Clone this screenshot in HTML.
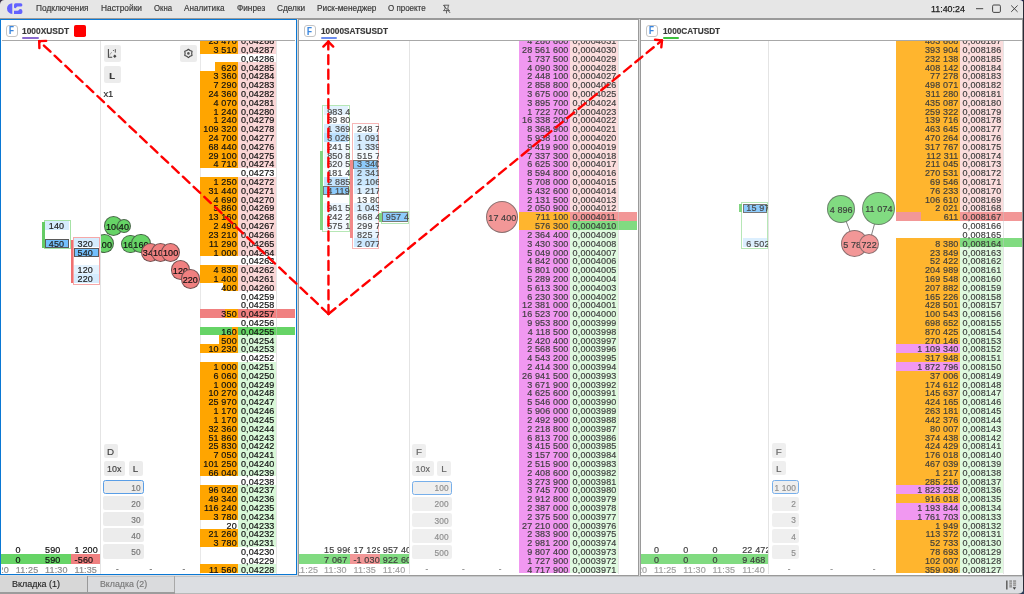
<!DOCTYPE html><html><head><meta charset="utf-8"><style>
html,body{margin:0;padding:0;}
body{width:1024px;height:594px;position:relative;overflow:hidden;background:#dcdee2;font-family:"Liberation Sans",sans-serif;}
#root{left:0;top:0;width:1024px;height:594px;will-change:transform;}
div{position:absolute;box-sizing:border-box;}
.t{white-space:nowrap;-webkit-text-stroke:0.18px currentColor;}
.clip{overflow:hidden;}
svg{position:absolute;left:0;top:0;}
</style></head><body><div id="root">
<div style="left:0.00px;top:0.00px;width:1024.00px;height:18.00px;background:#e6e6e6;"></div>
<div style="left:0.00px;top:18.00px;width:1024.00px;height:1.20px;background:#9a9a9a;"></div>
<div class="t" style="left:35.90px;top:4.52px;font-size:8.24px;line-height:8.24px;color:#3a3a3a;transform:scaleX(1.0090);transform-origin:0 0;">Подключения</div>
<div class="t" style="left:100.50px;top:4.52px;font-size:8.24px;line-height:8.24px;color:#3a3a3a;transform:scaleX(1.0147);transform-origin:0 0;">Настройки</div>
<div class="t" style="left:153.50px;top:4.52px;font-size:8.24px;line-height:8.24px;color:#3a3a3a;transform:scaleX(0.9453);transform-origin:0 0;">Окна</div>
<div class="t" style="left:184.10px;top:4.52px;font-size:8.24px;line-height:8.24px;color:#3a3a3a;transform:scaleX(0.9929);transform-origin:0 0;">Аналитика</div>
<div class="t" style="left:237.10px;top:4.52px;font-size:8.24px;line-height:8.24px;color:#3a3a3a;transform:scaleX(1.0007);transform-origin:0 0;">Финрез</div>
<div class="t" style="left:277.10px;top:4.52px;font-size:8.24px;line-height:8.24px;color:#3a3a3a;transform:scaleX(1.0041);transform-origin:0 0;">Сделки</div>
<div class="t" style="left:316.90px;top:4.52px;font-size:8.24px;line-height:8.24px;color:#3a3a3a;transform:scaleX(1.0041);transform-origin:0 0;">Риск-менеджер</div>
<div class="t" style="left:388.00px;top:4.52px;font-size:8.24px;line-height:8.24px;color:#3a3a3a;transform:scaleX(0.9673);transform-origin:0 0;">О проекте</div>
<div class="t" style="left:930.90px;top:4.80px;font-size:9.22px;line-height:9.22px;color:#1a1a1a;transform:scaleX(0.9631);transform-origin:0 0;-webkit-text-stroke:0.25px #1a1a1a;">11:40:24</div>
<div style="left:0.00px;top:19.10px;width:296.70px;height:556.40px;background:#ffffff;border:1.7px solid #0a78d4;"></div>
<div style="left:298.00px;top:19.10px;width:340.60px;height:556.90px;background:#ffffff;border:1.4px solid #9a9a9a;"></div>
<div style="left:639.90px;top:19.10px;width:382.80px;height:556.90px;background:#ffffff;border:1.4px solid #9a9a9a;"></div>
<div style="left:296.70px;top:19.00px;width:1.30px;height:557.00px;background:#d8d8d8;"></div>
<div style="left:638.60px;top:19.00px;width:1.30px;height:557.00px;background:#d8d8d8;"></div>
<div style="left:1022.70px;top:0.00px;width:1.30px;height:594.00px;background:#2a2a35;"></div>
<div style="left:1.70px;top:40.00px;width:293.30px;height:1.00px;background:#a8a8a8;"></div>
<div style="left:299.40px;top:40.00px;width:337.80px;height:1.00px;background:#a8a8a8;"></div>
<div style="left:641.30px;top:40.00px;width:380.50px;height:1.00px;background:#a8a8a8;"></div>
<div style="left:6.1px;top:25.0px;width:11.9px;height:11.9px;border:1px solid #c4c4c4;border-radius:3px;background:#fff;"></div>
<div class="t" style="left:9.10px;top:26.49px;font-size:10.06px;line-height:10.06px;color:#3a86de;transform:scaleX(0.7977);transform-origin:0 0;font-weight:bold;">F</div>
<div style="left:304.1px;top:25.2px;width:11.9px;height:11.9px;border:1px solid #c4c4c4;border-radius:3px;background:#fff;"></div>
<div class="t" style="left:307.10px;top:26.69px;font-size:10.06px;line-height:10.06px;color:#3a86de;transform:scaleX(0.7977);transform-origin:0 0;font-weight:bold;">F</div>
<div style="left:646.1px;top:25.0px;width:11.9px;height:11.9px;border:1px solid #c4c4c4;border-radius:3px;background:#fff;"></div>
<div class="t" style="left:649.10px;top:26.49px;font-size:10.06px;line-height:10.06px;color:#3a86de;transform:scaleX(0.7977);transform-origin:0 0;font-weight:bold;">F</div>
<div class="t" style="left:22.20px;top:26.41px;font-size:9.92px;line-height:9.92px;color:#3a3a3a;transform:scaleX(0.8479);transform-origin:0 0;font-weight:bold;">1000XUSDT</div>
<div style="left:22.40px;top:36.80px;width:16.40px;height:2.30px;background:#8a6ad0;border-radius:1.2px;"></div>
<div class="t" style="left:320.60px;top:26.41px;font-size:9.92px;line-height:9.92px;color:#3a3a3a;transform:scaleX(0.8371);transform-origin:0 0;font-weight:bold;">10000SATSUSDT</div>
<div style="left:320.80px;top:36.80px;width:16.50px;height:2.30px;background:#6b8cf0;border-radius:1.2px;"></div>
<div class="t" style="left:662.60px;top:26.41px;font-size:9.92px;line-height:9.92px;color:#3a3a3a;transform:scaleX(0.8326);transform-origin:0 0;font-weight:bold;">1000CATUSDT</div>
<div style="left:662.80px;top:36.80px;width:16.70px;height:2.30px;background:#3cc03c;border-radius:1.2px;"></div>
<div style="left:74.40px;top:24.90px;width:11.40px;height:11.80px;background:#ff0000;border-radius:1.8px;"></div>
<div style="left:100.20px;top:41.00px;width:0.80px;height:533.20px;background:#e4e4e4;"></div>
<div style="left:199.50px;top:41.00px;width:0.90px;height:533.20px;background:#e8e8e8;"></div>
<div class="clip" style="left:0;top:41px;width:296px;height:533.2px;">
<div style="left:0;top:-41px;width:1024px;height:594px;">
<div style="left:238.30px;top:35.90px;width:38.00px;height:8.81px;background:#fad6d6;"></div>
<div style="left:200.40px;top:35.90px;width:37.90px;height:8.81px;background:#ffa500;"></div>
<div style="left:238.30px;top:44.71px;width:38.00px;height:8.81px;background:#fad6d6;"></div>
<div style="left:200.40px;top:44.71px;width:37.90px;height:8.81px;background:#ffa500;"></div>
<div style="left:238.30px;top:62.32px;width:38.00px;height:8.81px;background:#fad6d6;"></div>
<div style="left:214.80px;top:62.32px;width:23.50px;height:8.81px;background:#ffa500;"></div>
<div style="left:238.30px;top:71.13px;width:38.00px;height:8.81px;background:#fad6d6;"></div>
<div style="left:200.40px;top:71.13px;width:37.90px;height:8.81px;background:#ffa500;"></div>
<div style="left:238.30px;top:79.94px;width:38.00px;height:8.81px;background:#fad6d6;"></div>
<div style="left:200.40px;top:79.94px;width:37.90px;height:8.81px;background:#ffa500;"></div>
<div style="left:238.30px;top:88.75px;width:38.00px;height:8.81px;background:#fad6d6;"></div>
<div style="left:200.40px;top:88.75px;width:37.90px;height:8.81px;background:#ffa500;"></div>
<div style="left:238.30px;top:97.56px;width:38.00px;height:8.81px;background:#fad6d6;"></div>
<div style="left:200.40px;top:97.56px;width:37.90px;height:8.81px;background:#ffa500;"></div>
<div style="left:238.30px;top:106.36px;width:38.00px;height:8.81px;background:#fad6d6;"></div>
<div style="left:200.40px;top:106.36px;width:37.90px;height:8.81px;background:#ffa500;"></div>
<div style="left:238.30px;top:115.17px;width:38.00px;height:8.81px;background:#fad6d6;"></div>
<div style="left:200.40px;top:115.17px;width:37.90px;height:8.81px;background:#ffa500;"></div>
<div style="left:238.30px;top:123.98px;width:38.00px;height:8.81px;background:#fad6d6;"></div>
<div style="left:200.40px;top:123.98px;width:37.90px;height:8.81px;background:#ffa500;"></div>
<div style="left:238.30px;top:132.79px;width:38.00px;height:8.81px;background:#fad6d6;"></div>
<div style="left:200.40px;top:132.79px;width:37.90px;height:8.81px;background:#ffa500;"></div>
<div style="left:238.30px;top:141.60px;width:38.00px;height:8.81px;background:#fad6d6;"></div>
<div style="left:200.40px;top:141.60px;width:37.90px;height:8.81px;background:#ffa500;"></div>
<div style="left:238.30px;top:150.40px;width:38.00px;height:8.81px;background:#fad6d6;"></div>
<div style="left:200.40px;top:150.40px;width:37.90px;height:8.81px;background:#ffa500;"></div>
<div style="left:238.30px;top:159.21px;width:38.00px;height:8.81px;background:#fad6d6;"></div>
<div style="left:200.40px;top:159.21px;width:37.90px;height:8.81px;background:#ffa500;"></div>
<div style="left:238.30px;top:176.83px;width:38.00px;height:8.81px;background:#fad6d6;"></div>
<div style="left:200.40px;top:176.83px;width:37.90px;height:8.81px;background:#ffa500;"></div>
<div style="left:238.30px;top:185.64px;width:38.00px;height:8.81px;background:#fad6d6;"></div>
<div style="left:200.40px;top:185.64px;width:37.90px;height:8.81px;background:#ffa500;"></div>
<div style="left:238.30px;top:194.44px;width:38.00px;height:8.81px;background:#fad6d6;"></div>
<div style="left:200.40px;top:194.44px;width:37.90px;height:8.81px;background:#ffa500;"></div>
<div style="left:238.30px;top:203.25px;width:38.00px;height:8.81px;background:#fad6d6;"></div>
<div style="left:200.40px;top:203.25px;width:37.90px;height:8.81px;background:#ffa500;"></div>
<div style="left:238.30px;top:212.06px;width:38.00px;height:8.81px;background:#fad6d6;"></div>
<div style="left:200.40px;top:212.06px;width:37.90px;height:8.81px;background:#ffa500;"></div>
<div style="left:238.30px;top:220.87px;width:38.00px;height:8.81px;background:#fad6d6;"></div>
<div style="left:200.40px;top:220.87px;width:37.90px;height:8.81px;background:#ffa500;"></div>
<div style="left:238.30px;top:229.68px;width:38.00px;height:8.81px;background:#fad6d6;"></div>
<div style="left:200.40px;top:229.68px;width:37.90px;height:8.81px;background:#ffa500;"></div>
<div style="left:238.30px;top:238.48px;width:38.00px;height:8.81px;background:#fad6d6;"></div>
<div style="left:200.40px;top:238.48px;width:37.90px;height:8.81px;background:#ffa500;"></div>
<div style="left:238.30px;top:247.29px;width:38.00px;height:8.81px;background:#fad6d6;"></div>
<div style="left:200.40px;top:247.29px;width:37.90px;height:8.81px;background:#ffa500;"></div>
<div style="left:238.30px;top:264.91px;width:38.00px;height:8.81px;background:#fad6d6;"></div>
<div style="left:200.40px;top:264.91px;width:37.90px;height:8.81px;background:#ffa500;"></div>
<div style="left:238.30px;top:273.72px;width:38.00px;height:8.81px;background:#fad6d6;"></div>
<div style="left:200.40px;top:273.72px;width:37.90px;height:8.81px;background:#ffa500;"></div>
<div style="left:238.30px;top:282.52px;width:38.00px;height:8.81px;background:#fad6d6;"></div>
<div style="left:223.14px;top:282.52px;width:15.16px;height:8.81px;background:#ffa500;"></div>
<div style="left:200.40px;top:308.95px;width:94.60px;height:8.81px;background:#f08080;"></div>
<div style="left:225.04px;top:308.95px;width:13.26px;height:8.81px;background:#ffa500;"></div>
<div style="left:200.40px;top:326.56px;width:94.60px;height:8.81px;background:#66d466;"></div>
<div style="left:232.24px;top:326.56px;width:6.06px;height:8.81px;background:#ffa500;"></div>
<div style="left:238.30px;top:335.37px;width:38.00px;height:8.81px;background:#d8f8d8;"></div>
<div style="left:219.35px;top:335.37px;width:18.95px;height:8.81px;background:#ffa500;"></div>
<div style="left:238.30px;top:344.18px;width:38.00px;height:8.81px;background:#d8f8d8;"></div>
<div style="left:200.40px;top:344.18px;width:37.90px;height:8.81px;background:#ffa500;"></div>
<div style="left:238.30px;top:361.80px;width:38.00px;height:8.81px;background:#d8f8d8;"></div>
<div style="left:200.40px;top:361.80px;width:37.90px;height:8.81px;background:#ffa500;"></div>
<div style="left:238.30px;top:370.60px;width:38.00px;height:8.81px;background:#d8f8d8;"></div>
<div style="left:200.40px;top:370.60px;width:37.90px;height:8.81px;background:#ffa500;"></div>
<div style="left:238.30px;top:379.41px;width:38.00px;height:8.81px;background:#d8f8d8;"></div>
<div style="left:200.40px;top:379.41px;width:37.90px;height:8.81px;background:#ffa500;"></div>
<div style="left:238.30px;top:388.22px;width:38.00px;height:8.81px;background:#d8f8d8;"></div>
<div style="left:200.40px;top:388.22px;width:37.90px;height:8.81px;background:#ffa500;"></div>
<div style="left:238.30px;top:397.03px;width:38.00px;height:8.81px;background:#d8f8d8;"></div>
<div style="left:200.40px;top:397.03px;width:37.90px;height:8.81px;background:#ffa500;"></div>
<div style="left:238.30px;top:405.84px;width:38.00px;height:8.81px;background:#d8f8d8;"></div>
<div style="left:200.40px;top:405.84px;width:37.90px;height:8.81px;background:#ffa500;"></div>
<div style="left:238.30px;top:414.64px;width:38.00px;height:8.81px;background:#d8f8d8;"></div>
<div style="left:200.40px;top:414.64px;width:37.90px;height:8.81px;background:#ffa500;"></div>
<div style="left:238.30px;top:423.45px;width:38.00px;height:8.81px;background:#d8f8d8;"></div>
<div style="left:200.40px;top:423.45px;width:37.90px;height:8.81px;background:#ffa500;"></div>
<div style="left:238.30px;top:432.26px;width:38.00px;height:8.81px;background:#d8f8d8;"></div>
<div style="left:200.40px;top:432.26px;width:37.90px;height:8.81px;background:#ffa500;"></div>
<div style="left:238.30px;top:441.07px;width:38.00px;height:8.81px;background:#d8f8d8;"></div>
<div style="left:200.40px;top:441.07px;width:37.90px;height:8.81px;background:#ffa500;"></div>
<div style="left:238.30px;top:449.88px;width:38.00px;height:8.81px;background:#d8f8d8;"></div>
<div style="left:200.40px;top:449.88px;width:37.90px;height:8.81px;background:#ffa500;"></div>
<div style="left:238.30px;top:458.68px;width:38.00px;height:8.81px;background:#d8f8d8;"></div>
<div style="left:200.40px;top:458.68px;width:37.90px;height:8.81px;background:#ffa500;"></div>
<div style="left:238.30px;top:467.49px;width:38.00px;height:8.81px;background:#d8f8d8;"></div>
<div style="left:200.40px;top:467.49px;width:37.90px;height:8.81px;background:#ffa500;"></div>
<div style="left:238.30px;top:485.11px;width:38.00px;height:8.81px;background:#d8f8d8;"></div>
<div style="left:200.40px;top:485.11px;width:37.90px;height:8.81px;background:#ffa500;"></div>
<div style="left:238.30px;top:493.92px;width:38.00px;height:8.81px;background:#d8f8d8;"></div>
<div style="left:200.40px;top:493.92px;width:37.90px;height:8.81px;background:#ffa500;"></div>
<div style="left:238.30px;top:502.72px;width:38.00px;height:8.81px;background:#d8f8d8;"></div>
<div style="left:200.40px;top:502.72px;width:37.90px;height:8.81px;background:#ffa500;"></div>
<div style="left:238.30px;top:511.53px;width:38.00px;height:8.81px;background:#d8f8d8;"></div>
<div style="left:200.40px;top:511.53px;width:37.90px;height:8.81px;background:#ffa500;"></div>
<div style="left:238.30px;top:520.34px;width:38.00px;height:8.81px;background:#d8f8d8;"></div>
<div style="left:238.30px;top:529.15px;width:38.00px;height:8.81px;background:#d8f8d8;"></div>
<div style="left:200.40px;top:529.15px;width:37.90px;height:8.81px;background:#ffa500;"></div>
<div style="left:238.30px;top:537.96px;width:38.00px;height:8.81px;background:#d8f8d8;"></div>
<div style="left:200.40px;top:537.96px;width:37.90px;height:8.81px;background:#ffa500;"></div>
<div style="left:238.30px;top:564.38px;width:38.00px;height:8.81px;background:#d8f8d8;"></div>
<div style="left:200.40px;top:564.38px;width:37.90px;height:8.81px;background:#ffa500;"></div>
<div class="t" style="left:36.70px;top:37.14px;width:200.15px;text-align:right;font-size:9.0px;line-height:9.0px;letter-spacing:0.15px;color:#111;">23 470</div>
<div class="t" style="left:240.90px;top:37.14px;font-size:9.0px;line-height:9.0px;letter-spacing:0.15px;color:#111;">0,04288</div>
<div class="t" style="left:36.70px;top:45.95px;width:200.15px;text-align:right;font-size:9.0px;line-height:9.0px;letter-spacing:0.15px;color:#111;">3 510</div>
<div class="t" style="left:240.90px;top:45.95px;font-size:9.0px;line-height:9.0px;letter-spacing:0.15px;color:#111;">0,04287</div>
<div class="t" style="left:240.90px;top:54.76px;font-size:9.0px;line-height:9.0px;letter-spacing:0.15px;color:#111;">0,04286</div>
<div class="t" style="left:36.70px;top:63.56px;width:200.15px;text-align:right;font-size:9.0px;line-height:9.0px;letter-spacing:0.15px;color:#111;">620</div>
<div class="t" style="left:240.90px;top:63.56px;font-size:9.0px;line-height:9.0px;letter-spacing:0.15px;color:#111;">0,04285</div>
<div class="t" style="left:36.70px;top:72.37px;width:200.15px;text-align:right;font-size:9.0px;line-height:9.0px;letter-spacing:0.15px;color:#111;">3 360</div>
<div class="t" style="left:240.90px;top:72.37px;font-size:9.0px;line-height:9.0px;letter-spacing:0.15px;color:#111;">0,04284</div>
<div class="t" style="left:36.70px;top:81.18px;width:200.15px;text-align:right;font-size:9.0px;line-height:9.0px;letter-spacing:0.15px;color:#111;">7 290</div>
<div class="t" style="left:240.90px;top:81.18px;font-size:9.0px;line-height:9.0px;letter-spacing:0.15px;color:#111;">0,04283</div>
<div class="t" style="left:36.70px;top:89.99px;width:200.15px;text-align:right;font-size:9.0px;line-height:9.0px;letter-spacing:0.15px;color:#111;">24 360</div>
<div class="t" style="left:240.90px;top:89.99px;font-size:9.0px;line-height:9.0px;letter-spacing:0.15px;color:#111;">0,04282</div>
<div class="t" style="left:36.70px;top:98.80px;width:200.15px;text-align:right;font-size:9.0px;line-height:9.0px;letter-spacing:0.15px;color:#111;">4 070</div>
<div class="t" style="left:240.90px;top:98.80px;font-size:9.0px;line-height:9.0px;letter-spacing:0.15px;color:#111;">0,04281</div>
<div class="t" style="left:36.70px;top:107.60px;width:200.15px;text-align:right;font-size:9.0px;line-height:9.0px;letter-spacing:0.15px;color:#111;">1 240</div>
<div class="t" style="left:240.90px;top:107.60px;font-size:9.0px;line-height:9.0px;letter-spacing:0.15px;color:#111;">0,04280</div>
<div class="t" style="left:36.70px;top:116.41px;width:200.15px;text-align:right;font-size:9.0px;line-height:9.0px;letter-spacing:0.15px;color:#111;">1 240</div>
<div class="t" style="left:240.90px;top:116.41px;font-size:9.0px;line-height:9.0px;letter-spacing:0.15px;color:#111;">0,04279</div>
<div class="t" style="left:36.70px;top:125.22px;width:200.15px;text-align:right;font-size:9.0px;line-height:9.0px;letter-spacing:0.15px;color:#111;">109 320</div>
<div class="t" style="left:240.90px;top:125.22px;font-size:9.0px;line-height:9.0px;letter-spacing:0.15px;color:#111;">0,04278</div>
<div class="t" style="left:36.70px;top:134.03px;width:200.15px;text-align:right;font-size:9.0px;line-height:9.0px;letter-spacing:0.15px;color:#111;">24 700</div>
<div class="t" style="left:240.90px;top:134.03px;font-size:9.0px;line-height:9.0px;letter-spacing:0.15px;color:#111;">0,04277</div>
<div class="t" style="left:36.70px;top:142.84px;width:200.15px;text-align:right;font-size:9.0px;line-height:9.0px;letter-spacing:0.15px;color:#111;">68 440</div>
<div class="t" style="left:240.90px;top:142.84px;font-size:9.0px;line-height:9.0px;letter-spacing:0.15px;color:#111;">0,04276</div>
<div class="t" style="left:36.70px;top:151.64px;width:200.15px;text-align:right;font-size:9.0px;line-height:9.0px;letter-spacing:0.15px;color:#111;">29 100</div>
<div class="t" style="left:240.90px;top:151.64px;font-size:9.0px;line-height:9.0px;letter-spacing:0.15px;color:#111;">0,04275</div>
<div class="t" style="left:36.70px;top:160.45px;width:200.15px;text-align:right;font-size:9.0px;line-height:9.0px;letter-spacing:0.15px;color:#111;">4 710</div>
<div class="t" style="left:240.90px;top:160.45px;font-size:9.0px;line-height:9.0px;letter-spacing:0.15px;color:#111;">0,04274</div>
<div class="t" style="left:240.90px;top:169.26px;font-size:9.0px;line-height:9.0px;letter-spacing:0.15px;color:#111;">0,04273</div>
<div class="t" style="left:36.70px;top:178.07px;width:200.15px;text-align:right;font-size:9.0px;line-height:9.0px;letter-spacing:0.15px;color:#111;">1 250</div>
<div class="t" style="left:240.90px;top:178.07px;font-size:9.0px;line-height:9.0px;letter-spacing:0.15px;color:#111;">0,04272</div>
<div class="t" style="left:36.70px;top:186.88px;width:200.15px;text-align:right;font-size:9.0px;line-height:9.0px;letter-spacing:0.15px;color:#111;">31 440</div>
<div class="t" style="left:240.90px;top:186.88px;font-size:9.0px;line-height:9.0px;letter-spacing:0.15px;color:#111;">0,04271</div>
<div class="t" style="left:36.70px;top:195.68px;width:200.15px;text-align:right;font-size:9.0px;line-height:9.0px;letter-spacing:0.15px;color:#111;">4 690</div>
<div class="t" style="left:240.90px;top:195.68px;font-size:9.0px;line-height:9.0px;letter-spacing:0.15px;color:#111;">0,04270</div>
<div class="t" style="left:36.70px;top:204.49px;width:200.15px;text-align:right;font-size:9.0px;line-height:9.0px;letter-spacing:0.15px;color:#111;">5 860</div>
<div class="t" style="left:240.90px;top:204.49px;font-size:9.0px;line-height:9.0px;letter-spacing:0.15px;color:#111;">0,04269</div>
<div class="t" style="left:36.70px;top:213.30px;width:200.15px;text-align:right;font-size:9.0px;line-height:9.0px;letter-spacing:0.15px;color:#111;">13 160</div>
<div class="t" style="left:240.90px;top:213.30px;font-size:9.0px;line-height:9.0px;letter-spacing:0.15px;color:#111;">0,04268</div>
<div class="t" style="left:36.70px;top:222.11px;width:200.15px;text-align:right;font-size:9.0px;line-height:9.0px;letter-spacing:0.15px;color:#111;">2 490</div>
<div class="t" style="left:240.90px;top:222.11px;font-size:9.0px;line-height:9.0px;letter-spacing:0.15px;color:#111;">0,04267</div>
<div class="t" style="left:36.70px;top:230.92px;width:200.15px;text-align:right;font-size:9.0px;line-height:9.0px;letter-spacing:0.15px;color:#111;">23 210</div>
<div class="t" style="left:240.90px;top:230.92px;font-size:9.0px;line-height:9.0px;letter-spacing:0.15px;color:#111;">0,04266</div>
<div class="t" style="left:36.70px;top:239.72px;width:200.15px;text-align:right;font-size:9.0px;line-height:9.0px;letter-spacing:0.15px;color:#111;">11 290</div>
<div class="t" style="left:240.90px;top:239.72px;font-size:9.0px;line-height:9.0px;letter-spacing:0.15px;color:#111;">0,04265</div>
<div class="t" style="left:36.70px;top:248.53px;width:200.15px;text-align:right;font-size:9.0px;line-height:9.0px;letter-spacing:0.15px;color:#111;">1 000</div>
<div class="t" style="left:240.90px;top:248.53px;font-size:9.0px;line-height:9.0px;letter-spacing:0.15px;color:#111;">0,04264</div>
<div class="t" style="left:240.90px;top:257.34px;font-size:9.0px;line-height:9.0px;letter-spacing:0.15px;color:#111;">0,04263</div>
<div class="t" style="left:36.70px;top:266.15px;width:200.15px;text-align:right;font-size:9.0px;line-height:9.0px;letter-spacing:0.15px;color:#111;">4 830</div>
<div class="t" style="left:240.90px;top:266.15px;font-size:9.0px;line-height:9.0px;letter-spacing:0.15px;color:#111;">0,04262</div>
<div class="t" style="left:36.70px;top:274.96px;width:200.15px;text-align:right;font-size:9.0px;line-height:9.0px;letter-spacing:0.15px;color:#111;">1 400</div>
<div class="t" style="left:240.90px;top:274.96px;font-size:9.0px;line-height:9.0px;letter-spacing:0.15px;color:#111;">0,04261</div>
<div class="t" style="left:36.70px;top:283.76px;width:200.15px;text-align:right;font-size:9.0px;line-height:9.0px;letter-spacing:0.15px;color:#111;">400</div>
<div class="t" style="left:240.90px;top:283.76px;font-size:9.0px;line-height:9.0px;letter-spacing:0.15px;color:#111;">0,04260</div>
<div class="t" style="left:240.90px;top:292.57px;font-size:9.0px;line-height:9.0px;letter-spacing:0.15px;color:#111;">0,04259</div>
<div class="t" style="left:240.90px;top:301.38px;font-size:9.0px;line-height:9.0px;letter-spacing:0.15px;color:#111;">0,04258</div>
<div class="t" style="left:36.70px;top:310.19px;width:200.15px;text-align:right;font-size:9.0px;line-height:9.0px;letter-spacing:0.15px;color:#111;">350</div>
<div class="t" style="left:240.90px;top:310.19px;font-size:9.0px;line-height:9.0px;letter-spacing:0.15px;color:#111;">0,04257</div>
<div class="t" style="left:240.90px;top:319.00px;font-size:9.0px;line-height:9.0px;letter-spacing:0.15px;color:#111;">0,04256</div>
<div class="t" style="left:36.70px;top:327.80px;width:200.15px;text-align:right;font-size:9.0px;line-height:9.0px;letter-spacing:0.15px;color:#111;">160</div>
<div class="t" style="left:240.90px;top:327.80px;font-size:9.0px;line-height:9.0px;letter-spacing:0.15px;color:#111;">0,04255</div>
<div class="t" style="left:36.70px;top:336.61px;width:200.15px;text-align:right;font-size:9.0px;line-height:9.0px;letter-spacing:0.15px;color:#111;">500</div>
<div class="t" style="left:240.90px;top:336.61px;font-size:9.0px;line-height:9.0px;letter-spacing:0.15px;color:#111;">0,04254</div>
<div class="t" style="left:36.70px;top:345.42px;width:200.15px;text-align:right;font-size:9.0px;line-height:9.0px;letter-spacing:0.15px;color:#111;">10 230</div>
<div class="t" style="left:240.90px;top:345.42px;font-size:9.0px;line-height:9.0px;letter-spacing:0.15px;color:#111;">0,04253</div>
<div class="t" style="left:240.90px;top:354.23px;font-size:9.0px;line-height:9.0px;letter-spacing:0.15px;color:#111;">0,04252</div>
<div class="t" style="left:36.70px;top:363.04px;width:200.15px;text-align:right;font-size:9.0px;line-height:9.0px;letter-spacing:0.15px;color:#111;">1 000</div>
<div class="t" style="left:240.90px;top:363.04px;font-size:9.0px;line-height:9.0px;letter-spacing:0.15px;color:#111;">0,04251</div>
<div class="t" style="left:36.70px;top:371.84px;width:200.15px;text-align:right;font-size:9.0px;line-height:9.0px;letter-spacing:0.15px;color:#111;">6 060</div>
<div class="t" style="left:240.90px;top:371.84px;font-size:9.0px;line-height:9.0px;letter-spacing:0.15px;color:#111;">0,04250</div>
<div class="t" style="left:36.70px;top:380.65px;width:200.15px;text-align:right;font-size:9.0px;line-height:9.0px;letter-spacing:0.15px;color:#111;">1 000</div>
<div class="t" style="left:240.90px;top:380.65px;font-size:9.0px;line-height:9.0px;letter-spacing:0.15px;color:#111;">0,04249</div>
<div class="t" style="left:36.70px;top:389.46px;width:200.15px;text-align:right;font-size:9.0px;line-height:9.0px;letter-spacing:0.15px;color:#111;">10 270</div>
<div class="t" style="left:240.90px;top:389.46px;font-size:9.0px;line-height:9.0px;letter-spacing:0.15px;color:#111;">0,04248</div>
<div class="t" style="left:36.70px;top:398.27px;width:200.15px;text-align:right;font-size:9.0px;line-height:9.0px;letter-spacing:0.15px;color:#111;">25 970</div>
<div class="t" style="left:240.90px;top:398.27px;font-size:9.0px;line-height:9.0px;letter-spacing:0.15px;color:#111;">0,04247</div>
<div class="t" style="left:36.70px;top:407.08px;width:200.15px;text-align:right;font-size:9.0px;line-height:9.0px;letter-spacing:0.15px;color:#111;">1 170</div>
<div class="t" style="left:240.90px;top:407.08px;font-size:9.0px;line-height:9.0px;letter-spacing:0.15px;color:#111;">0,04246</div>
<div class="t" style="left:36.70px;top:415.88px;width:200.15px;text-align:right;font-size:9.0px;line-height:9.0px;letter-spacing:0.15px;color:#111;">1 170</div>
<div class="t" style="left:240.90px;top:415.88px;font-size:9.0px;line-height:9.0px;letter-spacing:0.15px;color:#111;">0,04245</div>
<div class="t" style="left:36.70px;top:424.69px;width:200.15px;text-align:right;font-size:9.0px;line-height:9.0px;letter-spacing:0.15px;color:#111;">32 360</div>
<div class="t" style="left:240.90px;top:424.69px;font-size:9.0px;line-height:9.0px;letter-spacing:0.15px;color:#111;">0,04244</div>
<div class="t" style="left:36.70px;top:433.50px;width:200.15px;text-align:right;font-size:9.0px;line-height:9.0px;letter-spacing:0.15px;color:#111;">51 860</div>
<div class="t" style="left:240.90px;top:433.50px;font-size:9.0px;line-height:9.0px;letter-spacing:0.15px;color:#111;">0,04243</div>
<div class="t" style="left:36.70px;top:442.31px;width:200.15px;text-align:right;font-size:9.0px;line-height:9.0px;letter-spacing:0.15px;color:#111;">25 830</div>
<div class="t" style="left:240.90px;top:442.31px;font-size:9.0px;line-height:9.0px;letter-spacing:0.15px;color:#111;">0,04242</div>
<div class="t" style="left:36.70px;top:451.12px;width:200.15px;text-align:right;font-size:9.0px;line-height:9.0px;letter-spacing:0.15px;color:#111;">7 050</div>
<div class="t" style="left:240.90px;top:451.12px;font-size:9.0px;line-height:9.0px;letter-spacing:0.15px;color:#111;">0,04241</div>
<div class="t" style="left:36.70px;top:459.92px;width:200.15px;text-align:right;font-size:9.0px;line-height:9.0px;letter-spacing:0.15px;color:#111;">101 250</div>
<div class="t" style="left:240.90px;top:459.92px;font-size:9.0px;line-height:9.0px;letter-spacing:0.15px;color:#111;">0,04240</div>
<div class="t" style="left:36.70px;top:468.73px;width:200.15px;text-align:right;font-size:9.0px;line-height:9.0px;letter-spacing:0.15px;color:#111;">66 040</div>
<div class="t" style="left:240.90px;top:468.73px;font-size:9.0px;line-height:9.0px;letter-spacing:0.15px;color:#111;">0,04239</div>
<div class="t" style="left:240.90px;top:477.54px;font-size:9.0px;line-height:9.0px;letter-spacing:0.15px;color:#111;">0,04238</div>
<div class="t" style="left:36.70px;top:486.35px;width:200.15px;text-align:right;font-size:9.0px;line-height:9.0px;letter-spacing:0.15px;color:#111;">96 020</div>
<div class="t" style="left:240.90px;top:486.35px;font-size:9.0px;line-height:9.0px;letter-spacing:0.15px;color:#111;">0,04237</div>
<div class="t" style="left:36.70px;top:495.16px;width:200.15px;text-align:right;font-size:9.0px;line-height:9.0px;letter-spacing:0.15px;color:#111;">49 340</div>
<div class="t" style="left:240.90px;top:495.16px;font-size:9.0px;line-height:9.0px;letter-spacing:0.15px;color:#111;">0,04236</div>
<div class="t" style="left:36.70px;top:503.96px;width:200.15px;text-align:right;font-size:9.0px;line-height:9.0px;letter-spacing:0.15px;color:#111;">116 240</div>
<div class="t" style="left:240.90px;top:503.96px;font-size:9.0px;line-height:9.0px;letter-spacing:0.15px;color:#111;">0,04235</div>
<div class="t" style="left:36.70px;top:512.77px;width:200.15px;text-align:right;font-size:9.0px;line-height:9.0px;letter-spacing:0.15px;color:#111;">3 780</div>
<div class="t" style="left:240.90px;top:512.77px;font-size:9.0px;line-height:9.0px;letter-spacing:0.15px;color:#111;">0,04234</div>
<div class="t" style="left:36.70px;top:521.58px;width:200.15px;text-align:right;font-size:9.0px;line-height:9.0px;letter-spacing:0.15px;color:#111;">20</div>
<div class="t" style="left:240.90px;top:521.58px;font-size:9.0px;line-height:9.0px;letter-spacing:0.15px;color:#111;">0,04233</div>
<div class="t" style="left:36.70px;top:530.39px;width:200.15px;text-align:right;font-size:9.0px;line-height:9.0px;letter-spacing:0.15px;color:#111;">21 260</div>
<div class="t" style="left:240.90px;top:530.39px;font-size:9.0px;line-height:9.0px;letter-spacing:0.15px;color:#111;">0,04232</div>
<div class="t" style="left:36.70px;top:539.20px;width:200.15px;text-align:right;font-size:9.0px;line-height:9.0px;letter-spacing:0.15px;color:#111;">3 780</div>
<div class="t" style="left:240.90px;top:539.20px;font-size:9.0px;line-height:9.0px;letter-spacing:0.15px;color:#111;">0,04231</div>
<div class="t" style="left:240.90px;top:548.00px;font-size:9.0px;line-height:9.0px;letter-spacing:0.15px;color:#111;">0,04230</div>
<div class="t" style="left:240.90px;top:556.81px;font-size:9.0px;line-height:9.0px;letter-spacing:0.15px;color:#111;">0,04229</div>
<div class="t" style="left:36.70px;top:565.62px;width:200.15px;text-align:right;font-size:9.0px;line-height:9.0px;letter-spacing:0.15px;color:#111;">11 560</div>
<div class="t" style="left:240.90px;top:565.62px;font-size:9.0px;line-height:9.0px;letter-spacing:0.15px;color:#111;">0,04228</div>
</div></div>
<div style="left:409.30px;top:41.00px;width:0.80px;height:533.20px;background:#e4e4e4;"></div>
<div class="clip" style="left:299.4px;top:41px;width:337.8px;height:533px;opacity:0.82;">
<div style="left:-299.4px;top:-41px;width:1024px;height:594px;">
<div style="left:570.00px;top:35.90px;width:48.30px;height:8.81px;background:#fad6d6;"></div>
<div style="left:519.20px;top:35.90px;width:50.80px;height:8.81px;background:#ee82ee;"></div>
<div style="left:570.00px;top:44.71px;width:48.30px;height:8.81px;background:#fad6d6;"></div>
<div style="left:519.20px;top:44.71px;width:50.80px;height:8.81px;background:#ee82ee;"></div>
<div style="left:570.00px;top:53.52px;width:48.30px;height:8.81px;background:#fad6d6;"></div>
<div style="left:519.20px;top:53.52px;width:50.80px;height:8.81px;background:#ee82ee;"></div>
<div style="left:570.00px;top:62.32px;width:48.30px;height:8.81px;background:#fad6d6;"></div>
<div style="left:519.20px;top:62.32px;width:50.80px;height:8.81px;background:#ee82ee;"></div>
<div style="left:570.00px;top:71.13px;width:48.30px;height:8.81px;background:#fad6d6;"></div>
<div style="left:519.20px;top:71.13px;width:50.80px;height:8.81px;background:#ee82ee;"></div>
<div style="left:570.00px;top:79.94px;width:48.30px;height:8.81px;background:#fad6d6;"></div>
<div style="left:519.20px;top:79.94px;width:50.80px;height:8.81px;background:#ee82ee;"></div>
<div style="left:570.00px;top:88.75px;width:48.30px;height:8.81px;background:#fad6d6;"></div>
<div style="left:519.20px;top:88.75px;width:50.80px;height:8.81px;background:#ee82ee;"></div>
<div style="left:570.00px;top:97.56px;width:48.30px;height:8.81px;background:#fad6d6;"></div>
<div style="left:519.20px;top:97.56px;width:50.80px;height:8.81px;background:#ee82ee;"></div>
<div style="left:570.00px;top:106.36px;width:48.30px;height:8.81px;background:#fad6d6;"></div>
<div style="left:519.20px;top:106.36px;width:50.80px;height:8.81px;background:#ee82ee;"></div>
<div style="left:570.00px;top:115.17px;width:48.30px;height:8.81px;background:#fad6d6;"></div>
<div style="left:519.20px;top:115.17px;width:50.80px;height:8.81px;background:#ee82ee;"></div>
<div style="left:570.00px;top:123.98px;width:48.30px;height:8.81px;background:#fad6d6;"></div>
<div style="left:519.20px;top:123.98px;width:50.80px;height:8.81px;background:#ee82ee;"></div>
<div style="left:570.00px;top:132.79px;width:48.30px;height:8.81px;background:#fad6d6;"></div>
<div style="left:519.20px;top:132.79px;width:50.80px;height:8.81px;background:#ee82ee;"></div>
<div style="left:570.00px;top:141.60px;width:48.30px;height:8.81px;background:#fad6d6;"></div>
<div style="left:519.20px;top:141.60px;width:50.80px;height:8.81px;background:#ee82ee;"></div>
<div style="left:570.00px;top:150.40px;width:48.30px;height:8.81px;background:#fad6d6;"></div>
<div style="left:519.20px;top:150.40px;width:50.80px;height:8.81px;background:#ee82ee;"></div>
<div style="left:570.00px;top:159.21px;width:48.30px;height:8.81px;background:#fad6d6;"></div>
<div style="left:519.20px;top:159.21px;width:50.80px;height:8.81px;background:#ee82ee;"></div>
<div style="left:570.00px;top:168.02px;width:48.30px;height:8.81px;background:#fad6d6;"></div>
<div style="left:519.20px;top:168.02px;width:50.80px;height:8.81px;background:#ee82ee;"></div>
<div style="left:570.00px;top:176.83px;width:48.30px;height:8.81px;background:#fad6d6;"></div>
<div style="left:519.20px;top:176.83px;width:50.80px;height:8.81px;background:#ee82ee;"></div>
<div style="left:570.00px;top:185.64px;width:48.30px;height:8.81px;background:#fad6d6;"></div>
<div style="left:519.20px;top:185.64px;width:50.80px;height:8.81px;background:#ee82ee;"></div>
<div style="left:570.00px;top:194.44px;width:48.30px;height:8.81px;background:#fad6d6;"></div>
<div style="left:519.20px;top:194.44px;width:50.80px;height:8.81px;background:#ee82ee;"></div>
<div style="left:570.00px;top:203.25px;width:48.30px;height:8.81px;background:#fad6d6;"></div>
<div style="left:519.20px;top:203.25px;width:50.80px;height:8.81px;background:#ee82ee;"></div>
<div style="left:519.20px;top:212.06px;width:118.00px;height:8.81px;background:#f08080;"></div>
<div style="left:519.20px;top:212.06px;width:50.80px;height:8.81px;background:#ffa500;"></div>
<div style="left:519.20px;top:220.87px;width:118.00px;height:8.81px;background:#66d466;"></div>
<div style="left:519.20px;top:220.87px;width:50.80px;height:8.81px;background:#ffa500;"></div>
<div style="left:570.00px;top:229.68px;width:48.30px;height:8.81px;background:#d8f8d8;"></div>
<div style="left:519.20px;top:229.68px;width:50.80px;height:8.81px;background:#ee82ee;"></div>
<div style="left:570.00px;top:238.48px;width:48.30px;height:8.81px;background:#d8f8d8;"></div>
<div style="left:519.20px;top:238.48px;width:50.80px;height:8.81px;background:#ee82ee;"></div>
<div style="left:570.00px;top:247.29px;width:48.30px;height:8.81px;background:#d8f8d8;"></div>
<div style="left:519.20px;top:247.29px;width:50.80px;height:8.81px;background:#ee82ee;"></div>
<div style="left:570.00px;top:256.10px;width:48.30px;height:8.81px;background:#d8f8d8;"></div>
<div style="left:519.20px;top:256.10px;width:50.80px;height:8.81px;background:#ee82ee;"></div>
<div style="left:570.00px;top:264.91px;width:48.30px;height:8.81px;background:#d8f8d8;"></div>
<div style="left:519.20px;top:264.91px;width:50.80px;height:8.81px;background:#ee82ee;"></div>
<div style="left:570.00px;top:273.72px;width:48.30px;height:8.81px;background:#d8f8d8;"></div>
<div style="left:519.20px;top:273.72px;width:50.80px;height:8.81px;background:#ee82ee;"></div>
<div style="left:570.00px;top:282.52px;width:48.30px;height:8.81px;background:#d8f8d8;"></div>
<div style="left:519.20px;top:282.52px;width:50.80px;height:8.81px;background:#ee82ee;"></div>
<div style="left:570.00px;top:291.33px;width:48.30px;height:8.81px;background:#d8f8d8;"></div>
<div style="left:519.20px;top:291.33px;width:50.80px;height:8.81px;background:#ee82ee;"></div>
<div style="left:570.00px;top:300.14px;width:48.30px;height:8.81px;background:#d8f8d8;"></div>
<div style="left:519.20px;top:300.14px;width:50.80px;height:8.81px;background:#ee82ee;"></div>
<div style="left:570.00px;top:308.95px;width:48.30px;height:8.81px;background:#d8f8d8;"></div>
<div style="left:519.20px;top:308.95px;width:50.80px;height:8.81px;background:#ee82ee;"></div>
<div style="left:570.00px;top:317.76px;width:48.30px;height:8.81px;background:#d8f8d8;"></div>
<div style="left:519.20px;top:317.76px;width:50.80px;height:8.81px;background:#ee82ee;"></div>
<div style="left:570.00px;top:326.56px;width:48.30px;height:8.81px;background:#d8f8d8;"></div>
<div style="left:519.20px;top:326.56px;width:50.80px;height:8.81px;background:#ee82ee;"></div>
<div style="left:570.00px;top:335.37px;width:48.30px;height:8.81px;background:#d8f8d8;"></div>
<div style="left:519.20px;top:335.37px;width:50.80px;height:8.81px;background:#ee82ee;"></div>
<div style="left:570.00px;top:344.18px;width:48.30px;height:8.81px;background:#d8f8d8;"></div>
<div style="left:519.20px;top:344.18px;width:50.80px;height:8.81px;background:#ee82ee;"></div>
<div style="left:570.00px;top:352.99px;width:48.30px;height:8.81px;background:#d8f8d8;"></div>
<div style="left:519.20px;top:352.99px;width:50.80px;height:8.81px;background:#ee82ee;"></div>
<div style="left:570.00px;top:361.80px;width:48.30px;height:8.81px;background:#d8f8d8;"></div>
<div style="left:519.20px;top:361.80px;width:50.80px;height:8.81px;background:#ee82ee;"></div>
<div style="left:570.00px;top:370.60px;width:48.30px;height:8.81px;background:#d8f8d8;"></div>
<div style="left:519.20px;top:370.60px;width:50.80px;height:8.81px;background:#ee82ee;"></div>
<div style="left:570.00px;top:379.41px;width:48.30px;height:8.81px;background:#d8f8d8;"></div>
<div style="left:519.20px;top:379.41px;width:50.80px;height:8.81px;background:#ee82ee;"></div>
<div style="left:570.00px;top:388.22px;width:48.30px;height:8.81px;background:#d8f8d8;"></div>
<div style="left:519.20px;top:388.22px;width:50.80px;height:8.81px;background:#ee82ee;"></div>
<div style="left:570.00px;top:397.03px;width:48.30px;height:8.81px;background:#d8f8d8;"></div>
<div style="left:519.20px;top:397.03px;width:50.80px;height:8.81px;background:#ee82ee;"></div>
<div style="left:570.00px;top:405.84px;width:48.30px;height:8.81px;background:#d8f8d8;"></div>
<div style="left:519.20px;top:405.84px;width:50.80px;height:8.81px;background:#ee82ee;"></div>
<div style="left:570.00px;top:414.64px;width:48.30px;height:8.81px;background:#d8f8d8;"></div>
<div style="left:519.20px;top:414.64px;width:50.80px;height:8.81px;background:#ee82ee;"></div>
<div style="left:570.00px;top:423.45px;width:48.30px;height:8.81px;background:#d8f8d8;"></div>
<div style="left:519.20px;top:423.45px;width:50.80px;height:8.81px;background:#ee82ee;"></div>
<div style="left:570.00px;top:432.26px;width:48.30px;height:8.81px;background:#d8f8d8;"></div>
<div style="left:519.20px;top:432.26px;width:50.80px;height:8.81px;background:#ee82ee;"></div>
<div style="left:570.00px;top:441.07px;width:48.30px;height:8.81px;background:#d8f8d8;"></div>
<div style="left:519.20px;top:441.07px;width:50.80px;height:8.81px;background:#ee82ee;"></div>
<div style="left:570.00px;top:449.88px;width:48.30px;height:8.81px;background:#d8f8d8;"></div>
<div style="left:519.20px;top:449.88px;width:50.80px;height:8.81px;background:#ee82ee;"></div>
<div style="left:570.00px;top:458.68px;width:48.30px;height:8.81px;background:#d8f8d8;"></div>
<div style="left:519.20px;top:458.68px;width:50.80px;height:8.81px;background:#ee82ee;"></div>
<div style="left:570.00px;top:467.49px;width:48.30px;height:8.81px;background:#d8f8d8;"></div>
<div style="left:519.20px;top:467.49px;width:50.80px;height:8.81px;background:#ee82ee;"></div>
<div style="left:570.00px;top:476.30px;width:48.30px;height:8.81px;background:#d8f8d8;"></div>
<div style="left:519.20px;top:476.30px;width:50.80px;height:8.81px;background:#ee82ee;"></div>
<div style="left:570.00px;top:485.11px;width:48.30px;height:8.81px;background:#d8f8d8;"></div>
<div style="left:519.20px;top:485.11px;width:50.80px;height:8.81px;background:#ee82ee;"></div>
<div style="left:570.00px;top:493.92px;width:48.30px;height:8.81px;background:#d8f8d8;"></div>
<div style="left:519.20px;top:493.92px;width:50.80px;height:8.81px;background:#ee82ee;"></div>
<div style="left:570.00px;top:502.72px;width:48.30px;height:8.81px;background:#d8f8d8;"></div>
<div style="left:519.20px;top:502.72px;width:50.80px;height:8.81px;background:#ee82ee;"></div>
<div style="left:570.00px;top:511.53px;width:48.30px;height:8.81px;background:#d8f8d8;"></div>
<div style="left:519.20px;top:511.53px;width:50.80px;height:8.81px;background:#ee82ee;"></div>
<div style="left:570.00px;top:520.34px;width:48.30px;height:8.81px;background:#d8f8d8;"></div>
<div style="left:519.20px;top:520.34px;width:50.80px;height:8.81px;background:#ee82ee;"></div>
<div style="left:570.00px;top:529.15px;width:48.30px;height:8.81px;background:#d8f8d8;"></div>
<div style="left:519.20px;top:529.15px;width:50.80px;height:8.81px;background:#ee82ee;"></div>
<div style="left:570.00px;top:537.96px;width:48.30px;height:8.81px;background:#d8f8d8;"></div>
<div style="left:519.20px;top:537.96px;width:50.80px;height:8.81px;background:#ee82ee;"></div>
<div style="left:570.00px;top:546.76px;width:48.30px;height:8.81px;background:#d8f8d8;"></div>
<div style="left:519.20px;top:546.76px;width:50.80px;height:8.81px;background:#ee82ee;"></div>
<div style="left:570.00px;top:555.57px;width:48.30px;height:8.81px;background:#d8f8d8;"></div>
<div style="left:519.20px;top:555.57px;width:50.80px;height:8.81px;background:#ee82ee;"></div>
<div style="left:570.00px;top:564.38px;width:48.30px;height:8.81px;background:#d8f8d8;"></div>
<div style="left:519.20px;top:564.38px;width:50.80px;height:8.81px;background:#ee82ee;"></div>
<div class="t" style="left:368.40px;top:37.14px;width:200.15px;text-align:right;font-size:9.0px;line-height:9.0px;letter-spacing:0.15px;color:#111;">4 280 600</div>
<div class="t" style="left:572.60px;top:37.14px;font-size:9.0px;line-height:9.0px;letter-spacing:0.15px;color:#111;">0,0004031</div>
<div class="t" style="left:368.40px;top:45.95px;width:200.15px;text-align:right;font-size:9.0px;line-height:9.0px;letter-spacing:0.15px;color:#111;">28 561 600</div>
<div class="t" style="left:572.60px;top:45.95px;font-size:9.0px;line-height:9.0px;letter-spacing:0.15px;color:#111;">0,0004030</div>
<div class="t" style="left:368.40px;top:54.76px;width:200.15px;text-align:right;font-size:9.0px;line-height:9.0px;letter-spacing:0.15px;color:#111;">1 737 500</div>
<div class="t" style="left:572.60px;top:54.76px;font-size:9.0px;line-height:9.0px;letter-spacing:0.15px;color:#111;">0,0004029</div>
<div class="t" style="left:368.40px;top:63.56px;width:200.15px;text-align:right;font-size:9.0px;line-height:9.0px;letter-spacing:0.15px;color:#111;">4 090 300</div>
<div class="t" style="left:572.60px;top:63.56px;font-size:9.0px;line-height:9.0px;letter-spacing:0.15px;color:#111;">0,0004028</div>
<div class="t" style="left:368.40px;top:72.37px;width:200.15px;text-align:right;font-size:9.0px;line-height:9.0px;letter-spacing:0.15px;color:#111;">2 448 100</div>
<div class="t" style="left:572.60px;top:72.37px;font-size:9.0px;line-height:9.0px;letter-spacing:0.15px;color:#111;">0,0004027</div>
<div class="t" style="left:368.40px;top:81.18px;width:200.15px;text-align:right;font-size:9.0px;line-height:9.0px;letter-spacing:0.15px;color:#111;">2 858 800</div>
<div class="t" style="left:572.60px;top:81.18px;font-size:9.0px;line-height:9.0px;letter-spacing:0.15px;color:#111;">0,0004026</div>
<div class="t" style="left:368.40px;top:89.99px;width:200.15px;text-align:right;font-size:9.0px;line-height:9.0px;letter-spacing:0.15px;color:#111;">3 675 000</div>
<div class="t" style="left:572.60px;top:89.99px;font-size:9.0px;line-height:9.0px;letter-spacing:0.15px;color:#111;">0,0004025</div>
<div class="t" style="left:368.40px;top:98.80px;width:200.15px;text-align:right;font-size:9.0px;line-height:9.0px;letter-spacing:0.15px;color:#111;">3 895 700</div>
<div class="t" style="left:572.60px;top:98.80px;font-size:9.0px;line-height:9.0px;letter-spacing:0.15px;color:#111;">0,0004024</div>
<div class="t" style="left:368.40px;top:107.60px;width:200.15px;text-align:right;font-size:9.0px;line-height:9.0px;letter-spacing:0.15px;color:#111;">1 722 700</div>
<div class="t" style="left:572.60px;top:107.60px;font-size:9.0px;line-height:9.0px;letter-spacing:0.15px;color:#111;">0,0004023</div>
<div class="t" style="left:368.40px;top:116.41px;width:200.15px;text-align:right;font-size:9.0px;line-height:9.0px;letter-spacing:0.15px;color:#111;">16 338 200</div>
<div class="t" style="left:572.60px;top:116.41px;font-size:9.0px;line-height:9.0px;letter-spacing:0.15px;color:#111;">0,0004022</div>
<div class="t" style="left:368.40px;top:125.22px;width:200.15px;text-align:right;font-size:9.0px;line-height:9.0px;letter-spacing:0.15px;color:#111;">8 368 900</div>
<div class="t" style="left:572.60px;top:125.22px;font-size:9.0px;line-height:9.0px;letter-spacing:0.15px;color:#111;">0,0004021</div>
<div class="t" style="left:368.40px;top:134.03px;width:200.15px;text-align:right;font-size:9.0px;line-height:9.0px;letter-spacing:0.15px;color:#111;">5 938 100</div>
<div class="t" style="left:572.60px;top:134.03px;font-size:9.0px;line-height:9.0px;letter-spacing:0.15px;color:#111;">0,0004020</div>
<div class="t" style="left:368.40px;top:142.84px;width:200.15px;text-align:right;font-size:9.0px;line-height:9.0px;letter-spacing:0.15px;color:#111;">9 419 900</div>
<div class="t" style="left:572.60px;top:142.84px;font-size:9.0px;line-height:9.0px;letter-spacing:0.15px;color:#111;">0,0004019</div>
<div class="t" style="left:368.40px;top:151.64px;width:200.15px;text-align:right;font-size:9.0px;line-height:9.0px;letter-spacing:0.15px;color:#111;">7 337 300</div>
<div class="t" style="left:572.60px;top:151.64px;font-size:9.0px;line-height:9.0px;letter-spacing:0.15px;color:#111;">0,0004018</div>
<div class="t" style="left:368.40px;top:160.45px;width:200.15px;text-align:right;font-size:9.0px;line-height:9.0px;letter-spacing:0.15px;color:#111;">6 625 300</div>
<div class="t" style="left:572.60px;top:160.45px;font-size:9.0px;line-height:9.0px;letter-spacing:0.15px;color:#111;">0,0004017</div>
<div class="t" style="left:368.40px;top:169.26px;width:200.15px;text-align:right;font-size:9.0px;line-height:9.0px;letter-spacing:0.15px;color:#111;">8 594 800</div>
<div class="t" style="left:572.60px;top:169.26px;font-size:9.0px;line-height:9.0px;letter-spacing:0.15px;color:#111;">0,0004016</div>
<div class="t" style="left:368.40px;top:178.07px;width:200.15px;text-align:right;font-size:9.0px;line-height:9.0px;letter-spacing:0.15px;color:#111;">5 708 000</div>
<div class="t" style="left:572.60px;top:178.07px;font-size:9.0px;line-height:9.0px;letter-spacing:0.15px;color:#111;">0,0004015</div>
<div class="t" style="left:368.40px;top:186.88px;width:200.15px;text-align:right;font-size:9.0px;line-height:9.0px;letter-spacing:0.15px;color:#111;">5 432 600</div>
<div class="t" style="left:572.60px;top:186.88px;font-size:9.0px;line-height:9.0px;letter-spacing:0.15px;color:#111;">0,0004014</div>
<div class="t" style="left:368.40px;top:195.68px;width:200.15px;text-align:right;font-size:9.0px;line-height:9.0px;letter-spacing:0.15px;color:#111;">2 131 500</div>
<div class="t" style="left:572.60px;top:195.68px;font-size:9.0px;line-height:9.0px;letter-spacing:0.15px;color:#111;">0,0004013</div>
<div class="t" style="left:368.40px;top:204.49px;width:200.15px;text-align:right;font-size:9.0px;line-height:9.0px;letter-spacing:0.15px;color:#111;">2 050 900</div>
<div class="t" style="left:572.60px;top:204.49px;font-size:9.0px;line-height:9.0px;letter-spacing:0.15px;color:#111;">0,0004012</div>
<div class="t" style="left:368.40px;top:213.30px;width:200.15px;text-align:right;font-size:9.0px;line-height:9.0px;letter-spacing:0.15px;color:#111;">711 100</div>
<div class="t" style="left:572.60px;top:213.30px;font-size:9.0px;line-height:9.0px;letter-spacing:0.15px;color:#111;">0,0004011</div>
<div class="t" style="left:368.40px;top:222.11px;width:200.15px;text-align:right;font-size:9.0px;line-height:9.0px;letter-spacing:0.15px;color:#111;">576 300</div>
<div class="t" style="left:572.60px;top:222.11px;font-size:9.0px;line-height:9.0px;letter-spacing:0.15px;color:#111;">0,0004010</div>
<div class="t" style="left:368.40px;top:230.92px;width:200.15px;text-align:right;font-size:9.0px;line-height:9.0px;letter-spacing:0.15px;color:#111;">2 364 400</div>
<div class="t" style="left:572.60px;top:230.92px;font-size:9.0px;line-height:9.0px;letter-spacing:0.15px;color:#111;">0,0004009</div>
<div class="t" style="left:368.40px;top:239.72px;width:200.15px;text-align:right;font-size:9.0px;line-height:9.0px;letter-spacing:0.15px;color:#111;">3 430 300</div>
<div class="t" style="left:572.60px;top:239.72px;font-size:9.0px;line-height:9.0px;letter-spacing:0.15px;color:#111;">0,0004008</div>
<div class="t" style="left:368.40px;top:248.53px;width:200.15px;text-align:right;font-size:9.0px;line-height:9.0px;letter-spacing:0.15px;color:#111;">5 049 000</div>
<div class="t" style="left:572.60px;top:248.53px;font-size:9.0px;line-height:9.0px;letter-spacing:0.15px;color:#111;">0,0004007</div>
<div class="t" style="left:368.40px;top:257.34px;width:200.15px;text-align:right;font-size:9.0px;line-height:9.0px;letter-spacing:0.15px;color:#111;">4 842 000</div>
<div class="t" style="left:572.60px;top:257.34px;font-size:9.0px;line-height:9.0px;letter-spacing:0.15px;color:#111;">0,0004006</div>
<div class="t" style="left:368.40px;top:266.15px;width:200.15px;text-align:right;font-size:9.0px;line-height:9.0px;letter-spacing:0.15px;color:#111;">5 801 000</div>
<div class="t" style="left:572.60px;top:266.15px;font-size:9.0px;line-height:9.0px;letter-spacing:0.15px;color:#111;">0,0004005</div>
<div class="t" style="left:368.40px;top:274.96px;width:200.15px;text-align:right;font-size:9.0px;line-height:9.0px;letter-spacing:0.15px;color:#111;">5 289 200</div>
<div class="t" style="left:572.60px;top:274.96px;font-size:9.0px;line-height:9.0px;letter-spacing:0.15px;color:#111;">0,0004004</div>
<div class="t" style="left:368.40px;top:283.76px;width:200.15px;text-align:right;font-size:9.0px;line-height:9.0px;letter-spacing:0.15px;color:#111;">5 613 300</div>
<div class="t" style="left:572.60px;top:283.76px;font-size:9.0px;line-height:9.0px;letter-spacing:0.15px;color:#111;">0,0004003</div>
<div class="t" style="left:368.40px;top:292.57px;width:200.15px;text-align:right;font-size:9.0px;line-height:9.0px;letter-spacing:0.15px;color:#111;">6 230 300</div>
<div class="t" style="left:572.60px;top:292.57px;font-size:9.0px;line-height:9.0px;letter-spacing:0.15px;color:#111;">0,0004002</div>
<div class="t" style="left:368.40px;top:301.38px;width:200.15px;text-align:right;font-size:9.0px;line-height:9.0px;letter-spacing:0.15px;color:#111;">12 381 000</div>
<div class="t" style="left:572.60px;top:301.38px;font-size:9.0px;line-height:9.0px;letter-spacing:0.15px;color:#111;">0,0004001</div>
<div class="t" style="left:368.40px;top:310.19px;width:200.15px;text-align:right;font-size:9.0px;line-height:9.0px;letter-spacing:0.15px;color:#111;">16 523 700</div>
<div class="t" style="left:572.60px;top:310.19px;font-size:9.0px;line-height:9.0px;letter-spacing:0.15px;color:#111;">0,0004000</div>
<div class="t" style="left:368.40px;top:319.00px;width:200.15px;text-align:right;font-size:9.0px;line-height:9.0px;letter-spacing:0.15px;color:#111;">9 953 800</div>
<div class="t" style="left:572.60px;top:319.00px;font-size:9.0px;line-height:9.0px;letter-spacing:0.15px;color:#111;">0,0003999</div>
<div class="t" style="left:368.40px;top:327.80px;width:200.15px;text-align:right;font-size:9.0px;line-height:9.0px;letter-spacing:0.15px;color:#111;">4 118 500</div>
<div class="t" style="left:572.60px;top:327.80px;font-size:9.0px;line-height:9.0px;letter-spacing:0.15px;color:#111;">0,0003998</div>
<div class="t" style="left:368.40px;top:336.61px;width:200.15px;text-align:right;font-size:9.0px;line-height:9.0px;letter-spacing:0.15px;color:#111;">2 420 400</div>
<div class="t" style="left:572.60px;top:336.61px;font-size:9.0px;line-height:9.0px;letter-spacing:0.15px;color:#111;">0,0003997</div>
<div class="t" style="left:368.40px;top:345.42px;width:200.15px;text-align:right;font-size:9.0px;line-height:9.0px;letter-spacing:0.15px;color:#111;">2 568 500</div>
<div class="t" style="left:572.60px;top:345.42px;font-size:9.0px;line-height:9.0px;letter-spacing:0.15px;color:#111;">0,0003996</div>
<div class="t" style="left:368.40px;top:354.23px;width:200.15px;text-align:right;font-size:9.0px;line-height:9.0px;letter-spacing:0.15px;color:#111;">4 543 200</div>
<div class="t" style="left:572.60px;top:354.23px;font-size:9.0px;line-height:9.0px;letter-spacing:0.15px;color:#111;">0,0003995</div>
<div class="t" style="left:368.40px;top:363.04px;width:200.15px;text-align:right;font-size:9.0px;line-height:9.0px;letter-spacing:0.15px;color:#111;">2 414 300</div>
<div class="t" style="left:572.60px;top:363.04px;font-size:9.0px;line-height:9.0px;letter-spacing:0.15px;color:#111;">0,0003994</div>
<div class="t" style="left:368.40px;top:371.84px;width:200.15px;text-align:right;font-size:9.0px;line-height:9.0px;letter-spacing:0.15px;color:#111;">26 941 500</div>
<div class="t" style="left:572.60px;top:371.84px;font-size:9.0px;line-height:9.0px;letter-spacing:0.15px;color:#111;">0,0003993</div>
<div class="t" style="left:368.40px;top:380.65px;width:200.15px;text-align:right;font-size:9.0px;line-height:9.0px;letter-spacing:0.15px;color:#111;">3 671 900</div>
<div class="t" style="left:572.60px;top:380.65px;font-size:9.0px;line-height:9.0px;letter-spacing:0.15px;color:#111;">0,0003992</div>
<div class="t" style="left:368.40px;top:389.46px;width:200.15px;text-align:right;font-size:9.0px;line-height:9.0px;letter-spacing:0.15px;color:#111;">4 625 600</div>
<div class="t" style="left:572.60px;top:389.46px;font-size:9.0px;line-height:9.0px;letter-spacing:0.15px;color:#111;">0,0003991</div>
<div class="t" style="left:368.40px;top:398.27px;width:200.15px;text-align:right;font-size:9.0px;line-height:9.0px;letter-spacing:0.15px;color:#111;">5 546 000</div>
<div class="t" style="left:572.60px;top:398.27px;font-size:9.0px;line-height:9.0px;letter-spacing:0.15px;color:#111;">0,0003990</div>
<div class="t" style="left:368.40px;top:407.08px;width:200.15px;text-align:right;font-size:9.0px;line-height:9.0px;letter-spacing:0.15px;color:#111;">5 906 000</div>
<div class="t" style="left:572.60px;top:407.08px;font-size:9.0px;line-height:9.0px;letter-spacing:0.15px;color:#111;">0,0003989</div>
<div class="t" style="left:368.40px;top:415.88px;width:200.15px;text-align:right;font-size:9.0px;line-height:9.0px;letter-spacing:0.15px;color:#111;">2 492 900</div>
<div class="t" style="left:572.60px;top:415.88px;font-size:9.0px;line-height:9.0px;letter-spacing:0.15px;color:#111;">0,0003988</div>
<div class="t" style="left:368.40px;top:424.69px;width:200.15px;text-align:right;font-size:9.0px;line-height:9.0px;letter-spacing:0.15px;color:#111;">2 218 800</div>
<div class="t" style="left:572.60px;top:424.69px;font-size:9.0px;line-height:9.0px;letter-spacing:0.15px;color:#111;">0,0003987</div>
<div class="t" style="left:368.40px;top:433.50px;width:200.15px;text-align:right;font-size:9.0px;line-height:9.0px;letter-spacing:0.15px;color:#111;">6 813 700</div>
<div class="t" style="left:572.60px;top:433.50px;font-size:9.0px;line-height:9.0px;letter-spacing:0.15px;color:#111;">0,0003986</div>
<div class="t" style="left:368.40px;top:442.31px;width:200.15px;text-align:right;font-size:9.0px;line-height:9.0px;letter-spacing:0.15px;color:#111;">3 415 500</div>
<div class="t" style="left:572.60px;top:442.31px;font-size:9.0px;line-height:9.0px;letter-spacing:0.15px;color:#111;">0,0003985</div>
<div class="t" style="left:368.40px;top:451.12px;width:200.15px;text-align:right;font-size:9.0px;line-height:9.0px;letter-spacing:0.15px;color:#111;">3 157 700</div>
<div class="t" style="left:572.60px;top:451.12px;font-size:9.0px;line-height:9.0px;letter-spacing:0.15px;color:#111;">0,0003984</div>
<div class="t" style="left:368.40px;top:459.92px;width:200.15px;text-align:right;font-size:9.0px;line-height:9.0px;letter-spacing:0.15px;color:#111;">2 515 900</div>
<div class="t" style="left:572.60px;top:459.92px;font-size:9.0px;line-height:9.0px;letter-spacing:0.15px;color:#111;">0,0003983</div>
<div class="t" style="left:368.40px;top:468.73px;width:200.15px;text-align:right;font-size:9.0px;line-height:9.0px;letter-spacing:0.15px;color:#111;">2 408 600</div>
<div class="t" style="left:572.60px;top:468.73px;font-size:9.0px;line-height:9.0px;letter-spacing:0.15px;color:#111;">0,0003982</div>
<div class="t" style="left:368.40px;top:477.54px;width:200.15px;text-align:right;font-size:9.0px;line-height:9.0px;letter-spacing:0.15px;color:#111;">3 273 900</div>
<div class="t" style="left:572.60px;top:477.54px;font-size:9.0px;line-height:9.0px;letter-spacing:0.15px;color:#111;">0,0003981</div>
<div class="t" style="left:368.40px;top:486.35px;width:200.15px;text-align:right;font-size:9.0px;line-height:9.0px;letter-spacing:0.15px;color:#111;">3 745 700</div>
<div class="t" style="left:572.60px;top:486.35px;font-size:9.0px;line-height:9.0px;letter-spacing:0.15px;color:#111;">0,0003980</div>
<div class="t" style="left:368.40px;top:495.16px;width:200.15px;text-align:right;font-size:9.0px;line-height:9.0px;letter-spacing:0.15px;color:#111;">2 912 800</div>
<div class="t" style="left:572.60px;top:495.16px;font-size:9.0px;line-height:9.0px;letter-spacing:0.15px;color:#111;">0,0003979</div>
<div class="t" style="left:368.40px;top:503.96px;width:200.15px;text-align:right;font-size:9.0px;line-height:9.0px;letter-spacing:0.15px;color:#111;">2 387 000</div>
<div class="t" style="left:572.60px;top:503.96px;font-size:9.0px;line-height:9.0px;letter-spacing:0.15px;color:#111;">0,0003978</div>
<div class="t" style="left:368.40px;top:512.77px;width:200.15px;text-align:right;font-size:9.0px;line-height:9.0px;letter-spacing:0.15px;color:#111;">2 375 500</div>
<div class="t" style="left:572.60px;top:512.77px;font-size:9.0px;line-height:9.0px;letter-spacing:0.15px;color:#111;">0,0003977</div>
<div class="t" style="left:368.40px;top:521.58px;width:200.15px;text-align:right;font-size:9.0px;line-height:9.0px;letter-spacing:0.15px;color:#111;">27 210 000</div>
<div class="t" style="left:572.60px;top:521.58px;font-size:9.0px;line-height:9.0px;letter-spacing:0.15px;color:#111;">0,0003976</div>
<div class="t" style="left:368.40px;top:530.39px;width:200.15px;text-align:right;font-size:9.0px;line-height:9.0px;letter-spacing:0.15px;color:#111;">2 383 900</div>
<div class="t" style="left:572.60px;top:530.39px;font-size:9.0px;line-height:9.0px;letter-spacing:0.15px;color:#111;">0,0003975</div>
<div class="t" style="left:368.40px;top:539.20px;width:200.15px;text-align:right;font-size:9.0px;line-height:9.0px;letter-spacing:0.15px;color:#111;">2 981 200</div>
<div class="t" style="left:572.60px;top:539.20px;font-size:9.0px;line-height:9.0px;letter-spacing:0.15px;color:#111;">0,0003974</div>
<div class="t" style="left:368.40px;top:548.00px;width:200.15px;text-align:right;font-size:9.0px;line-height:9.0px;letter-spacing:0.15px;color:#111;">9 807 400</div>
<div class="t" style="left:572.60px;top:548.00px;font-size:9.0px;line-height:9.0px;letter-spacing:0.15px;color:#111;">0,0003973</div>
<div class="t" style="left:368.40px;top:556.81px;width:200.15px;text-align:right;font-size:9.0px;line-height:9.0px;letter-spacing:0.15px;color:#111;">1 727 900</div>
<div class="t" style="left:572.60px;top:556.81px;font-size:9.0px;line-height:9.0px;letter-spacing:0.15px;color:#111;">0,0003972</div>
<div class="t" style="left:368.40px;top:565.62px;width:200.15px;text-align:right;font-size:9.0px;line-height:9.0px;letter-spacing:0.15px;color:#111;">4 717 900</div>
<div class="t" style="left:572.60px;top:565.62px;font-size:9.0px;line-height:9.0px;letter-spacing:0.15px;color:#111;">0,0003971</div>
</div></div>
<div style="left:767.90px;top:41.00px;width:1.00px;height:533.20px;background:#e4e4e4;"></div>
<div class="clip" style="left:641.3px;top:41px;width:380.5px;height:533px;opacity:0.82;">
<div style="left:-641.3px;top:-41px;width:1024px;height:594px;">
<div style="left:960.00px;top:35.90px;width:42.90px;height:8.81px;background:#fad6d6;"></div>
<div style="left:895.50px;top:35.90px;width:64.50px;height:8.81px;background:#ffa500;"></div>
<div style="left:960.00px;top:44.71px;width:42.90px;height:8.81px;background:#fad6d6;"></div>
<div style="left:895.50px;top:44.71px;width:64.50px;height:8.81px;background:#ffa500;"></div>
<div style="left:960.00px;top:53.52px;width:42.90px;height:8.81px;background:#fad6d6;"></div>
<div style="left:895.50px;top:53.52px;width:64.50px;height:8.81px;background:#ffa500;"></div>
<div style="left:960.00px;top:62.32px;width:42.90px;height:8.81px;background:#fad6d6;"></div>
<div style="left:895.50px;top:62.32px;width:64.50px;height:8.81px;background:#ffa500;"></div>
<div style="left:960.00px;top:71.13px;width:42.90px;height:8.81px;background:#fad6d6;"></div>
<div style="left:895.50px;top:71.13px;width:64.50px;height:8.81px;background:#ffa500;"></div>
<div style="left:960.00px;top:79.94px;width:42.90px;height:8.81px;background:#fad6d6;"></div>
<div style="left:895.50px;top:79.94px;width:64.50px;height:8.81px;background:#ffa500;"></div>
<div style="left:960.00px;top:88.75px;width:42.90px;height:8.81px;background:#fad6d6;"></div>
<div style="left:895.50px;top:88.75px;width:64.50px;height:8.81px;background:#ffa500;"></div>
<div style="left:960.00px;top:97.56px;width:42.90px;height:8.81px;background:#fad6d6;"></div>
<div style="left:895.50px;top:97.56px;width:64.50px;height:8.81px;background:#ffa500;"></div>
<div style="left:960.00px;top:106.36px;width:42.90px;height:8.81px;background:#fad6d6;"></div>
<div style="left:895.50px;top:106.36px;width:64.50px;height:8.81px;background:#ffa500;"></div>
<div style="left:960.00px;top:115.17px;width:42.90px;height:8.81px;background:#fad6d6;"></div>
<div style="left:895.50px;top:115.17px;width:64.50px;height:8.81px;background:#ffa500;"></div>
<div style="left:960.00px;top:123.98px;width:42.90px;height:8.81px;background:#fad6d6;"></div>
<div style="left:895.50px;top:123.98px;width:64.50px;height:8.81px;background:#ffa500;"></div>
<div style="left:960.00px;top:132.79px;width:42.90px;height:8.81px;background:#fad6d6;"></div>
<div style="left:895.50px;top:132.79px;width:64.50px;height:8.81px;background:#ffa500;"></div>
<div style="left:960.00px;top:141.60px;width:42.90px;height:8.81px;background:#fad6d6;"></div>
<div style="left:895.50px;top:141.60px;width:64.50px;height:8.81px;background:#ffa500;"></div>
<div style="left:960.00px;top:150.40px;width:42.90px;height:8.81px;background:#fad6d6;"></div>
<div style="left:895.50px;top:150.40px;width:64.50px;height:8.81px;background:#ffa500;"></div>
<div style="left:960.00px;top:159.21px;width:42.90px;height:8.81px;background:#fad6d6;"></div>
<div style="left:895.50px;top:159.21px;width:64.50px;height:8.81px;background:#ffa500;"></div>
<div style="left:960.00px;top:168.02px;width:42.90px;height:8.81px;background:#fad6d6;"></div>
<div style="left:895.50px;top:168.02px;width:64.50px;height:8.81px;background:#ffa500;"></div>
<div style="left:960.00px;top:176.83px;width:42.90px;height:8.81px;background:#fad6d6;"></div>
<div style="left:895.50px;top:176.83px;width:64.50px;height:8.81px;background:#ffa500;"></div>
<div style="left:960.00px;top:185.64px;width:42.90px;height:8.81px;background:#fad6d6;"></div>
<div style="left:895.50px;top:185.64px;width:64.50px;height:8.81px;background:#ffa500;"></div>
<div style="left:960.00px;top:194.44px;width:42.90px;height:8.81px;background:#fad6d6;"></div>
<div style="left:895.50px;top:194.44px;width:64.50px;height:8.81px;background:#ffa500;"></div>
<div style="left:960.00px;top:203.25px;width:42.90px;height:8.81px;background:#fad6d6;"></div>
<div style="left:895.50px;top:203.25px;width:64.50px;height:8.81px;background:#ffa500;"></div>
<div style="left:895.50px;top:212.06px;width:126.30px;height:8.81px;background:#f08080;"></div>
<div style="left:920.59px;top:212.06px;width:39.41px;height:8.81px;background:#ffa500;"></div>
<div style="left:895.50px;top:238.48px;width:126.30px;height:8.81px;background:#66d466;"></div>
<div style="left:895.50px;top:238.48px;width:64.50px;height:8.81px;background:#ffa500;"></div>
<div style="left:960.00px;top:247.29px;width:42.90px;height:8.81px;background:#d8f8d8;"></div>
<div style="left:895.50px;top:247.29px;width:64.50px;height:8.81px;background:#ffa500;"></div>
<div style="left:960.00px;top:256.10px;width:42.90px;height:8.81px;background:#d8f8d8;"></div>
<div style="left:895.50px;top:256.10px;width:64.50px;height:8.81px;background:#ffa500;"></div>
<div style="left:960.00px;top:264.91px;width:42.90px;height:8.81px;background:#d8f8d8;"></div>
<div style="left:895.50px;top:264.91px;width:64.50px;height:8.81px;background:#ffa500;"></div>
<div style="left:960.00px;top:273.72px;width:42.90px;height:8.81px;background:#d8f8d8;"></div>
<div style="left:895.50px;top:273.72px;width:64.50px;height:8.81px;background:#ffa500;"></div>
<div style="left:960.00px;top:282.52px;width:42.90px;height:8.81px;background:#d8f8d8;"></div>
<div style="left:895.50px;top:282.52px;width:64.50px;height:8.81px;background:#ffa500;"></div>
<div style="left:960.00px;top:291.33px;width:42.90px;height:8.81px;background:#d8f8d8;"></div>
<div style="left:895.50px;top:291.33px;width:64.50px;height:8.81px;background:#ffa500;"></div>
<div style="left:960.00px;top:300.14px;width:42.90px;height:8.81px;background:#d8f8d8;"></div>
<div style="left:895.50px;top:300.14px;width:64.50px;height:8.81px;background:#ffa500;"></div>
<div style="left:960.00px;top:308.95px;width:42.90px;height:8.81px;background:#d8f8d8;"></div>
<div style="left:895.50px;top:308.95px;width:64.50px;height:8.81px;background:#ffa500;"></div>
<div style="left:960.00px;top:317.76px;width:42.90px;height:8.81px;background:#d8f8d8;"></div>
<div style="left:895.50px;top:317.76px;width:64.50px;height:8.81px;background:#ffa500;"></div>
<div style="left:960.00px;top:326.56px;width:42.90px;height:8.81px;background:#d8f8d8;"></div>
<div style="left:895.50px;top:326.56px;width:64.50px;height:8.81px;background:#ffa500;"></div>
<div style="left:960.00px;top:335.37px;width:42.90px;height:8.81px;background:#d8f8d8;"></div>
<div style="left:895.50px;top:335.37px;width:64.50px;height:8.81px;background:#ffa500;"></div>
<div style="left:960.00px;top:344.18px;width:42.90px;height:8.81px;background:#d8f8d8;"></div>
<div style="left:895.50px;top:344.18px;width:64.50px;height:8.81px;background:#ee82ee;"></div>
<div style="left:960.00px;top:352.99px;width:42.90px;height:8.81px;background:#d8f8d8;"></div>
<div style="left:895.50px;top:352.99px;width:64.50px;height:8.81px;background:#ffa500;"></div>
<div style="left:960.00px;top:361.80px;width:42.90px;height:8.81px;background:#d8f8d8;"></div>
<div style="left:895.50px;top:361.80px;width:64.50px;height:8.81px;background:#ee82ee;"></div>
<div style="left:960.00px;top:370.60px;width:42.90px;height:8.81px;background:#d8f8d8;"></div>
<div style="left:895.50px;top:370.60px;width:64.50px;height:8.81px;background:#ffa500;"></div>
<div style="left:960.00px;top:379.41px;width:42.90px;height:8.81px;background:#d8f8d8;"></div>
<div style="left:895.50px;top:379.41px;width:64.50px;height:8.81px;background:#ffa500;"></div>
<div style="left:960.00px;top:388.22px;width:42.90px;height:8.81px;background:#d8f8d8;"></div>
<div style="left:895.50px;top:388.22px;width:64.50px;height:8.81px;background:#ffa500;"></div>
<div style="left:960.00px;top:397.03px;width:42.90px;height:8.81px;background:#d8f8d8;"></div>
<div style="left:895.50px;top:397.03px;width:64.50px;height:8.81px;background:#ffa500;"></div>
<div style="left:960.00px;top:405.84px;width:42.90px;height:8.81px;background:#d8f8d8;"></div>
<div style="left:895.50px;top:405.84px;width:64.50px;height:8.81px;background:#ffa500;"></div>
<div style="left:960.00px;top:414.64px;width:42.90px;height:8.81px;background:#d8f8d8;"></div>
<div style="left:895.50px;top:414.64px;width:64.50px;height:8.81px;background:#ffa500;"></div>
<div style="left:960.00px;top:423.45px;width:42.90px;height:8.81px;background:#d8f8d8;"></div>
<div style="left:895.50px;top:423.45px;width:64.50px;height:8.81px;background:#ffa500;"></div>
<div style="left:960.00px;top:432.26px;width:42.90px;height:8.81px;background:#d8f8d8;"></div>
<div style="left:895.50px;top:432.26px;width:64.50px;height:8.81px;background:#ffa500;"></div>
<div style="left:960.00px;top:441.07px;width:42.90px;height:8.81px;background:#d8f8d8;"></div>
<div style="left:895.50px;top:441.07px;width:64.50px;height:8.81px;background:#ffa500;"></div>
<div style="left:960.00px;top:449.88px;width:42.90px;height:8.81px;background:#d8f8d8;"></div>
<div style="left:895.50px;top:449.88px;width:64.50px;height:8.81px;background:#ffa500;"></div>
<div style="left:960.00px;top:458.68px;width:42.90px;height:8.81px;background:#d8f8d8;"></div>
<div style="left:895.50px;top:458.68px;width:64.50px;height:8.81px;background:#ffa500;"></div>
<div style="left:960.00px;top:467.49px;width:42.90px;height:8.81px;background:#d8f8d8;"></div>
<div style="left:895.50px;top:467.49px;width:64.50px;height:8.81px;background:#ffa500;"></div>
<div style="left:960.00px;top:476.30px;width:42.90px;height:8.81px;background:#d8f8d8;"></div>
<div style="left:895.50px;top:476.30px;width:64.50px;height:8.81px;background:#ffa500;"></div>
<div style="left:960.00px;top:485.11px;width:42.90px;height:8.81px;background:#d8f8d8;"></div>
<div style="left:895.50px;top:485.11px;width:64.50px;height:8.81px;background:#ee82ee;"></div>
<div style="left:960.00px;top:493.92px;width:42.90px;height:8.81px;background:#d8f8d8;"></div>
<div style="left:895.50px;top:493.92px;width:64.50px;height:8.81px;background:#ffa500;"></div>
<div style="left:960.00px;top:502.72px;width:42.90px;height:8.81px;background:#d8f8d8;"></div>
<div style="left:895.50px;top:502.72px;width:64.50px;height:8.81px;background:#ee82ee;"></div>
<div style="left:960.00px;top:511.53px;width:42.90px;height:8.81px;background:#d8f8d8;"></div>
<div style="left:895.50px;top:511.53px;width:64.50px;height:8.81px;background:#ee82ee;"></div>
<div style="left:960.00px;top:520.34px;width:42.90px;height:8.81px;background:#d8f8d8;"></div>
<div style="left:895.50px;top:520.34px;width:64.50px;height:8.81px;background:#ffa500;"></div>
<div style="left:960.00px;top:529.15px;width:42.90px;height:8.81px;background:#d8f8d8;"></div>
<div style="left:895.50px;top:529.15px;width:64.50px;height:8.81px;background:#ffa500;"></div>
<div style="left:960.00px;top:537.96px;width:42.90px;height:8.81px;background:#d8f8d8;"></div>
<div style="left:895.50px;top:537.96px;width:64.50px;height:8.81px;background:#ffa500;"></div>
<div style="left:960.00px;top:546.76px;width:42.90px;height:8.81px;background:#d8f8d8;"></div>
<div style="left:895.50px;top:546.76px;width:64.50px;height:8.81px;background:#ffa500;"></div>
<div style="left:960.00px;top:555.57px;width:42.90px;height:8.81px;background:#d8f8d8;"></div>
<div style="left:895.50px;top:555.57px;width:64.50px;height:8.81px;background:#ffa500;"></div>
<div style="left:960.00px;top:564.38px;width:42.90px;height:8.81px;background:#d8f8d8;"></div>
<div style="left:895.50px;top:564.38px;width:64.50px;height:8.81px;background:#ffa500;"></div>
<div class="t" style="left:758.40px;top:37.14px;width:200.15px;text-align:right;font-size:9.0px;line-height:9.0px;letter-spacing:0.15px;color:#111;">403 608</div>
<div class="t" style="left:962.60px;top:37.14px;font-size:9.0px;line-height:9.0px;letter-spacing:0.15px;color:#111;">0,008187</div>
<div class="t" style="left:758.40px;top:45.95px;width:200.15px;text-align:right;font-size:9.0px;line-height:9.0px;letter-spacing:0.15px;color:#111;">393 904</div>
<div class="t" style="left:962.60px;top:45.95px;font-size:9.0px;line-height:9.0px;letter-spacing:0.15px;color:#111;">0,008186</div>
<div class="t" style="left:758.40px;top:54.76px;width:200.15px;text-align:right;font-size:9.0px;line-height:9.0px;letter-spacing:0.15px;color:#111;">232 138</div>
<div class="t" style="left:962.60px;top:54.76px;font-size:9.0px;line-height:9.0px;letter-spacing:0.15px;color:#111;">0,008185</div>
<div class="t" style="left:758.40px;top:63.56px;width:200.15px;text-align:right;font-size:9.0px;line-height:9.0px;letter-spacing:0.15px;color:#111;">408 142</div>
<div class="t" style="left:962.60px;top:63.56px;font-size:9.0px;line-height:9.0px;letter-spacing:0.15px;color:#111;">0,008184</div>
<div class="t" style="left:758.40px;top:72.37px;width:200.15px;text-align:right;font-size:9.0px;line-height:9.0px;letter-spacing:0.15px;color:#111;">77 278</div>
<div class="t" style="left:962.60px;top:72.37px;font-size:9.0px;line-height:9.0px;letter-spacing:0.15px;color:#111;">0,008183</div>
<div class="t" style="left:758.40px;top:81.18px;width:200.15px;text-align:right;font-size:9.0px;line-height:9.0px;letter-spacing:0.15px;color:#111;">498 071</div>
<div class="t" style="left:962.60px;top:81.18px;font-size:9.0px;line-height:9.0px;letter-spacing:0.15px;color:#111;">0,008182</div>
<div class="t" style="left:758.40px;top:89.99px;width:200.15px;text-align:right;font-size:9.0px;line-height:9.0px;letter-spacing:0.15px;color:#111;">311 280</div>
<div class="t" style="left:962.60px;top:89.99px;font-size:9.0px;line-height:9.0px;letter-spacing:0.15px;color:#111;">0,008181</div>
<div class="t" style="left:758.40px;top:98.80px;width:200.15px;text-align:right;font-size:9.0px;line-height:9.0px;letter-spacing:0.15px;color:#111;">435 087</div>
<div class="t" style="left:962.60px;top:98.80px;font-size:9.0px;line-height:9.0px;letter-spacing:0.15px;color:#111;">0,008180</div>
<div class="t" style="left:758.40px;top:107.60px;width:200.15px;text-align:right;font-size:9.0px;line-height:9.0px;letter-spacing:0.15px;color:#111;">259 322</div>
<div class="t" style="left:962.60px;top:107.60px;font-size:9.0px;line-height:9.0px;letter-spacing:0.15px;color:#111;">0,008179</div>
<div class="t" style="left:758.40px;top:116.41px;width:200.15px;text-align:right;font-size:9.0px;line-height:9.0px;letter-spacing:0.15px;color:#111;">139 716</div>
<div class="t" style="left:962.60px;top:116.41px;font-size:9.0px;line-height:9.0px;letter-spacing:0.15px;color:#111;">0,008178</div>
<div class="t" style="left:758.40px;top:125.22px;width:200.15px;text-align:right;font-size:9.0px;line-height:9.0px;letter-spacing:0.15px;color:#111;">463 645</div>
<div class="t" style="left:962.60px;top:125.22px;font-size:9.0px;line-height:9.0px;letter-spacing:0.15px;color:#111;">0,008177</div>
<div class="t" style="left:758.40px;top:134.03px;width:200.15px;text-align:right;font-size:9.0px;line-height:9.0px;letter-spacing:0.15px;color:#111;">470 264</div>
<div class="t" style="left:962.60px;top:134.03px;font-size:9.0px;line-height:9.0px;letter-spacing:0.15px;color:#111;">0,008176</div>
<div class="t" style="left:758.40px;top:142.84px;width:200.15px;text-align:right;font-size:9.0px;line-height:9.0px;letter-spacing:0.15px;color:#111;">317 767</div>
<div class="t" style="left:962.60px;top:142.84px;font-size:9.0px;line-height:9.0px;letter-spacing:0.15px;color:#111;">0,008175</div>
<div class="t" style="left:758.40px;top:151.64px;width:200.15px;text-align:right;font-size:9.0px;line-height:9.0px;letter-spacing:0.15px;color:#111;">112 311</div>
<div class="t" style="left:962.60px;top:151.64px;font-size:9.0px;line-height:9.0px;letter-spacing:0.15px;color:#111;">0,008174</div>
<div class="t" style="left:758.40px;top:160.45px;width:200.15px;text-align:right;font-size:9.0px;line-height:9.0px;letter-spacing:0.15px;color:#111;">211 045</div>
<div class="t" style="left:962.60px;top:160.45px;font-size:9.0px;line-height:9.0px;letter-spacing:0.15px;color:#111;">0,008173</div>
<div class="t" style="left:758.40px;top:169.26px;width:200.15px;text-align:right;font-size:9.0px;line-height:9.0px;letter-spacing:0.15px;color:#111;">270 531</div>
<div class="t" style="left:962.60px;top:169.26px;font-size:9.0px;line-height:9.0px;letter-spacing:0.15px;color:#111;">0,008172</div>
<div class="t" style="left:758.40px;top:178.07px;width:200.15px;text-align:right;font-size:9.0px;line-height:9.0px;letter-spacing:0.15px;color:#111;">69 546</div>
<div class="t" style="left:962.60px;top:178.07px;font-size:9.0px;line-height:9.0px;letter-spacing:0.15px;color:#111;">0,008171</div>
<div class="t" style="left:758.40px;top:186.88px;width:200.15px;text-align:right;font-size:9.0px;line-height:9.0px;letter-spacing:0.15px;color:#111;">76 233</div>
<div class="t" style="left:962.60px;top:186.88px;font-size:9.0px;line-height:9.0px;letter-spacing:0.15px;color:#111;">0,008170</div>
<div class="t" style="left:758.40px;top:195.68px;width:200.15px;text-align:right;font-size:9.0px;line-height:9.0px;letter-spacing:0.15px;color:#111;">106 610</div>
<div class="t" style="left:962.60px;top:195.68px;font-size:9.0px;line-height:9.0px;letter-spacing:0.15px;color:#111;">0,008169</div>
<div class="t" style="left:758.40px;top:204.49px;width:200.15px;text-align:right;font-size:9.0px;line-height:9.0px;letter-spacing:0.15px;color:#111;">2 021</div>
<div class="t" style="left:962.60px;top:204.49px;font-size:9.0px;line-height:9.0px;letter-spacing:0.15px;color:#111;">0,008168</div>
<div class="t" style="left:758.40px;top:213.30px;width:200.15px;text-align:right;font-size:9.0px;line-height:9.0px;letter-spacing:0.15px;color:#111;">611</div>
<div class="t" style="left:962.60px;top:213.30px;font-size:9.0px;line-height:9.0px;letter-spacing:0.15px;color:#111;">0,008167</div>
<div class="t" style="left:962.60px;top:222.11px;font-size:9.0px;line-height:9.0px;letter-spacing:0.15px;color:#111;">0,008166</div>
<div class="t" style="left:962.60px;top:230.92px;font-size:9.0px;line-height:9.0px;letter-spacing:0.15px;color:#111;">0,008165</div>
<div class="t" style="left:758.40px;top:239.72px;width:200.15px;text-align:right;font-size:9.0px;line-height:9.0px;letter-spacing:0.15px;color:#111;">8 380</div>
<div class="t" style="left:962.60px;top:239.72px;font-size:9.0px;line-height:9.0px;letter-spacing:0.15px;color:#111;">0,008164</div>
<div class="t" style="left:758.40px;top:248.53px;width:200.15px;text-align:right;font-size:9.0px;line-height:9.0px;letter-spacing:0.15px;color:#111;">23 849</div>
<div class="t" style="left:962.60px;top:248.53px;font-size:9.0px;line-height:9.0px;letter-spacing:0.15px;color:#111;">0,008163</div>
<div class="t" style="left:758.40px;top:257.34px;width:200.15px;text-align:right;font-size:9.0px;line-height:9.0px;letter-spacing:0.15px;color:#111;">52 422</div>
<div class="t" style="left:962.60px;top:257.34px;font-size:9.0px;line-height:9.0px;letter-spacing:0.15px;color:#111;">0,008162</div>
<div class="t" style="left:758.40px;top:266.15px;width:200.15px;text-align:right;font-size:9.0px;line-height:9.0px;letter-spacing:0.15px;color:#111;">204 989</div>
<div class="t" style="left:962.60px;top:266.15px;font-size:9.0px;line-height:9.0px;letter-spacing:0.15px;color:#111;">0,008161</div>
<div class="t" style="left:758.40px;top:274.96px;width:200.15px;text-align:right;font-size:9.0px;line-height:9.0px;letter-spacing:0.15px;color:#111;">169 548</div>
<div class="t" style="left:962.60px;top:274.96px;font-size:9.0px;line-height:9.0px;letter-spacing:0.15px;color:#111;">0,008160</div>
<div class="t" style="left:758.40px;top:283.76px;width:200.15px;text-align:right;font-size:9.0px;line-height:9.0px;letter-spacing:0.15px;color:#111;">207 882</div>
<div class="t" style="left:962.60px;top:283.76px;font-size:9.0px;line-height:9.0px;letter-spacing:0.15px;color:#111;">0,008159</div>
<div class="t" style="left:758.40px;top:292.57px;width:200.15px;text-align:right;font-size:9.0px;line-height:9.0px;letter-spacing:0.15px;color:#111;">165 226</div>
<div class="t" style="left:962.60px;top:292.57px;font-size:9.0px;line-height:9.0px;letter-spacing:0.15px;color:#111;">0,008158</div>
<div class="t" style="left:758.40px;top:301.38px;width:200.15px;text-align:right;font-size:9.0px;line-height:9.0px;letter-spacing:0.15px;color:#111;">428 501</div>
<div class="t" style="left:962.60px;top:301.38px;font-size:9.0px;line-height:9.0px;letter-spacing:0.15px;color:#111;">0,008157</div>
<div class="t" style="left:758.40px;top:310.19px;width:200.15px;text-align:right;font-size:9.0px;line-height:9.0px;letter-spacing:0.15px;color:#111;">100 543</div>
<div class="t" style="left:962.60px;top:310.19px;font-size:9.0px;line-height:9.0px;letter-spacing:0.15px;color:#111;">0,008156</div>
<div class="t" style="left:758.40px;top:319.00px;width:200.15px;text-align:right;font-size:9.0px;line-height:9.0px;letter-spacing:0.15px;color:#111;">698 652</div>
<div class="t" style="left:962.60px;top:319.00px;font-size:9.0px;line-height:9.0px;letter-spacing:0.15px;color:#111;">0,008155</div>
<div class="t" style="left:758.40px;top:327.80px;width:200.15px;text-align:right;font-size:9.0px;line-height:9.0px;letter-spacing:0.15px;color:#111;">870 425</div>
<div class="t" style="left:962.60px;top:327.80px;font-size:9.0px;line-height:9.0px;letter-spacing:0.15px;color:#111;">0,008154</div>
<div class="t" style="left:758.40px;top:336.61px;width:200.15px;text-align:right;font-size:9.0px;line-height:9.0px;letter-spacing:0.15px;color:#111;">270 146</div>
<div class="t" style="left:962.60px;top:336.61px;font-size:9.0px;line-height:9.0px;letter-spacing:0.15px;color:#111;">0,008153</div>
<div class="t" style="left:758.40px;top:345.42px;width:200.15px;text-align:right;font-size:9.0px;line-height:9.0px;letter-spacing:0.15px;color:#111;">1 109 340</div>
<div class="t" style="left:962.60px;top:345.42px;font-size:9.0px;line-height:9.0px;letter-spacing:0.15px;color:#111;">0,008152</div>
<div class="t" style="left:758.40px;top:354.23px;width:200.15px;text-align:right;font-size:9.0px;line-height:9.0px;letter-spacing:0.15px;color:#111;">317 948</div>
<div class="t" style="left:962.60px;top:354.23px;font-size:9.0px;line-height:9.0px;letter-spacing:0.15px;color:#111;">0,008151</div>
<div class="t" style="left:758.40px;top:363.04px;width:200.15px;text-align:right;font-size:9.0px;line-height:9.0px;letter-spacing:0.15px;color:#111;">1 872 796</div>
<div class="t" style="left:962.60px;top:363.04px;font-size:9.0px;line-height:9.0px;letter-spacing:0.15px;color:#111;">0,008150</div>
<div class="t" style="left:758.40px;top:371.84px;width:200.15px;text-align:right;font-size:9.0px;line-height:9.0px;letter-spacing:0.15px;color:#111;">37 006</div>
<div class="t" style="left:962.60px;top:371.84px;font-size:9.0px;line-height:9.0px;letter-spacing:0.15px;color:#111;">0,008149</div>
<div class="t" style="left:758.40px;top:380.65px;width:200.15px;text-align:right;font-size:9.0px;line-height:9.0px;letter-spacing:0.15px;color:#111;">174 612</div>
<div class="t" style="left:962.60px;top:380.65px;font-size:9.0px;line-height:9.0px;letter-spacing:0.15px;color:#111;">0,008148</div>
<div class="t" style="left:758.40px;top:389.46px;width:200.15px;text-align:right;font-size:9.0px;line-height:9.0px;letter-spacing:0.15px;color:#111;">145 637</div>
<div class="t" style="left:962.60px;top:389.46px;font-size:9.0px;line-height:9.0px;letter-spacing:0.15px;color:#111;">0,008147</div>
<div class="t" style="left:758.40px;top:398.27px;width:200.15px;text-align:right;font-size:9.0px;line-height:9.0px;letter-spacing:0.15px;color:#111;">424 165</div>
<div class="t" style="left:962.60px;top:398.27px;font-size:9.0px;line-height:9.0px;letter-spacing:0.15px;color:#111;">0,008146</div>
<div class="t" style="left:758.40px;top:407.08px;width:200.15px;text-align:right;font-size:9.0px;line-height:9.0px;letter-spacing:0.15px;color:#111;">263 181</div>
<div class="t" style="left:962.60px;top:407.08px;font-size:9.0px;line-height:9.0px;letter-spacing:0.15px;color:#111;">0,008145</div>
<div class="t" style="left:758.40px;top:415.88px;width:200.15px;text-align:right;font-size:9.0px;line-height:9.0px;letter-spacing:0.15px;color:#111;">442 376</div>
<div class="t" style="left:962.60px;top:415.88px;font-size:9.0px;line-height:9.0px;letter-spacing:0.15px;color:#111;">0,008144</div>
<div class="t" style="left:758.40px;top:424.69px;width:200.15px;text-align:right;font-size:9.0px;line-height:9.0px;letter-spacing:0.15px;color:#111;">80 007</div>
<div class="t" style="left:962.60px;top:424.69px;font-size:9.0px;line-height:9.0px;letter-spacing:0.15px;color:#111;">0,008143</div>
<div class="t" style="left:758.40px;top:433.50px;width:200.15px;text-align:right;font-size:9.0px;line-height:9.0px;letter-spacing:0.15px;color:#111;">374 438</div>
<div class="t" style="left:962.60px;top:433.50px;font-size:9.0px;line-height:9.0px;letter-spacing:0.15px;color:#111;">0,008142</div>
<div class="t" style="left:758.40px;top:442.31px;width:200.15px;text-align:right;font-size:9.0px;line-height:9.0px;letter-spacing:0.15px;color:#111;">424 429</div>
<div class="t" style="left:962.60px;top:442.31px;font-size:9.0px;line-height:9.0px;letter-spacing:0.15px;color:#111;">0,008141</div>
<div class="t" style="left:758.40px;top:451.12px;width:200.15px;text-align:right;font-size:9.0px;line-height:9.0px;letter-spacing:0.15px;color:#111;">176 018</div>
<div class="t" style="left:962.60px;top:451.12px;font-size:9.0px;line-height:9.0px;letter-spacing:0.15px;color:#111;">0,008140</div>
<div class="t" style="left:758.40px;top:459.92px;width:200.15px;text-align:right;font-size:9.0px;line-height:9.0px;letter-spacing:0.15px;color:#111;">467 039</div>
<div class="t" style="left:962.60px;top:459.92px;font-size:9.0px;line-height:9.0px;letter-spacing:0.15px;color:#111;">0,008139</div>
<div class="t" style="left:758.40px;top:468.73px;width:200.15px;text-align:right;font-size:9.0px;line-height:9.0px;letter-spacing:0.15px;color:#111;">1 217</div>
<div class="t" style="left:962.60px;top:468.73px;font-size:9.0px;line-height:9.0px;letter-spacing:0.15px;color:#111;">0,008138</div>
<div class="t" style="left:758.40px;top:477.54px;width:200.15px;text-align:right;font-size:9.0px;line-height:9.0px;letter-spacing:0.15px;color:#111;">285 216</div>
<div class="t" style="left:962.60px;top:477.54px;font-size:9.0px;line-height:9.0px;letter-spacing:0.15px;color:#111;">0,008137</div>
<div class="t" style="left:758.40px;top:486.35px;width:200.15px;text-align:right;font-size:9.0px;line-height:9.0px;letter-spacing:0.15px;color:#111;">1 823 252</div>
<div class="t" style="left:962.60px;top:486.35px;font-size:9.0px;line-height:9.0px;letter-spacing:0.15px;color:#111;">0,008136</div>
<div class="t" style="left:758.40px;top:495.16px;width:200.15px;text-align:right;font-size:9.0px;line-height:9.0px;letter-spacing:0.15px;color:#111;">916 018</div>
<div class="t" style="left:962.60px;top:495.16px;font-size:9.0px;line-height:9.0px;letter-spacing:0.15px;color:#111;">0,008135</div>
<div class="t" style="left:758.40px;top:503.96px;width:200.15px;text-align:right;font-size:9.0px;line-height:9.0px;letter-spacing:0.15px;color:#111;">1 193 844</div>
<div class="t" style="left:962.60px;top:503.96px;font-size:9.0px;line-height:9.0px;letter-spacing:0.15px;color:#111;">0,008134</div>
<div class="t" style="left:758.40px;top:512.77px;width:200.15px;text-align:right;font-size:9.0px;line-height:9.0px;letter-spacing:0.15px;color:#111;">1 761 703</div>
<div class="t" style="left:962.60px;top:512.77px;font-size:9.0px;line-height:9.0px;letter-spacing:0.15px;color:#111;">0,008133</div>
<div class="t" style="left:758.40px;top:521.58px;width:200.15px;text-align:right;font-size:9.0px;line-height:9.0px;letter-spacing:0.15px;color:#111;">1 949</div>
<div class="t" style="left:962.60px;top:521.58px;font-size:9.0px;line-height:9.0px;letter-spacing:0.15px;color:#111;">0,008132</div>
<div class="t" style="left:758.40px;top:530.39px;width:200.15px;text-align:right;font-size:9.0px;line-height:9.0px;letter-spacing:0.15px;color:#111;">113 372</div>
<div class="t" style="left:962.60px;top:530.39px;font-size:9.0px;line-height:9.0px;letter-spacing:0.15px;color:#111;">0,008131</div>
<div class="t" style="left:758.40px;top:539.20px;width:200.15px;text-align:right;font-size:9.0px;line-height:9.0px;letter-spacing:0.15px;color:#111;">52 733</div>
<div class="t" style="left:962.60px;top:539.20px;font-size:9.0px;line-height:9.0px;letter-spacing:0.15px;color:#111;">0,008130</div>
<div class="t" style="left:758.40px;top:548.00px;width:200.15px;text-align:right;font-size:9.0px;line-height:9.0px;letter-spacing:0.15px;color:#111;">78 693</div>
<div class="t" style="left:962.60px;top:548.00px;font-size:9.0px;line-height:9.0px;letter-spacing:0.15px;color:#111;">0,008129</div>
<div class="t" style="left:758.40px;top:556.81px;width:200.15px;text-align:right;font-size:9.0px;line-height:9.0px;letter-spacing:0.15px;color:#111;">102 007</div>
<div class="t" style="left:962.60px;top:556.81px;font-size:9.0px;line-height:9.0px;letter-spacing:0.15px;color:#111;">0,008128</div>
<div class="t" style="left:758.40px;top:565.62px;width:200.15px;text-align:right;font-size:9.0px;line-height:9.0px;letter-spacing:0.15px;color:#111;">359 036</div>
<div class="t" style="left:962.60px;top:565.62px;font-size:9.0px;line-height:9.0px;letter-spacing:0.15px;color:#111;">0,008127</div>
</div></div>
<div style="left:0.00px;top:576.00px;width:1024.00px;height:18.00px;background:#dcdee2;"></div>
<div style="left:0.00px;top:576.00px;width:87.00px;height:16.00px;background:#d7d7d7;"></div>
<div style="left:88.00px;top:576.00px;width:86.00px;height:16.00px;background:#dadbdd;"></div>
<div style="left:88.00px;top:576.00px;width:934.70px;height:1.10px;background:#c4c6c7;"></div>
<div style="left:86.80px;top:576.00px;width:1.20px;height:16.00px;background:#999999;"></div>
<div style="left:173.80px;top:576.00px;width:1.20px;height:16.00px;background:#a8a8a8;"></div>
<div style="left:0.00px;top:592.00px;width:175.00px;height:2.00px;background:#9c9c9c;"></div>
<div style="left:175.00px;top:592.60px;width:847.70px;height:1.40px;background:#b8b8b8;"></div>
<div class="t" style="left:11.70px;top:580.23px;font-size:8.94px;line-height:8.94px;color:#2a2a2a;transform:scaleX(1.0049);transform-origin:0 0;">Вкладка (1)</div>
<div class="t" style="left:99.70px;top:580.23px;font-size:8.94px;line-height:8.94px;color:#7a7a7a;transform:scaleX(0.9861);transform-origin:0 0;">Вкладка (2)</div>
<div style="left:276.30px;top:41.00px;width:1.00px;height:533.20px;background:rgba(200,200,200,0.45);"></div>
<div style="left:618.30px;top:41.00px;width:1.00px;height:533.20px;background:rgba(200,200,200,0.45);"></div>
<div style="left:1002.90px;top:41.00px;width:1.00px;height:533.20px;background:rgba(200,200,200,0.45);"></div>
<div style="left:43.80px;top:219.80px;width:26.80px;height:29.70px;background:transparent;border:1px solid #a6e2a6;"></div>
<div style="left:45.30px;top:220.87px;width:23.80px;height:8.81px;background:rgba(116,192,252,0.30);"></div>
<div style="left:45.00px;top:238.78px;width:24.40px;height:9.41px;background:rgb(116,192,252);border:1px solid #5a5a5a;"></div>
<div style="left:41.80px;top:222.00px;width:2.80px;height:25.90px;background:#66cc66;"></div>
<div class="clip" style="left:44.80px;top:219.80px;width:25.80px;height:29.70px;">
<div class="t" style="left:4.00px;top:2.31px;font-size:9.0px;line-height:9.0px;letter-spacing:0.15px;color:#222;">140</div>
<div class="t" style="left:4.00px;top:19.92px;font-size:9.0px;line-height:9.0px;letter-spacing:0.15px;color:#222;">450</div>
</div>
<div style="left:72.50px;top:237.30px;width:27.50px;height:47.30px;background:transparent;border:1px solid #f6a8a8;"></div>
<div style="left:74.00px;top:238.48px;width:24.50px;height:8.81px;background:rgba(116,192,252,0.30);"></div>
<div style="left:73.70px;top:247.59px;width:25.10px;height:9.41px;background:rgb(116,192,252);border:1px solid #5a5a5a;"></div>
<div style="left:74.00px;top:264.91px;width:24.50px;height:8.81px;background:rgba(116,192,252,0.20);"></div>
<div style="left:74.00px;top:273.72px;width:24.50px;height:8.81px;background:rgba(116,192,252,0.30);"></div>
<div style="left:70.50px;top:239.60px;width:2.80px;height:43.40px;background:#f07070;"></div>
<div class="clip" style="left:73.50px;top:237.30px;width:26.50px;height:47.30px;">
<div class="t" style="left:4.00px;top:2.42px;font-size:9.0px;line-height:9.0px;letter-spacing:0.15px;color:#222;">320</div>
<div class="t" style="left:4.00px;top:11.23px;font-size:9.0px;line-height:9.0px;letter-spacing:0.15px;color:#222;">540</div>
<div class="t" style="left:4.00px;top:28.85px;font-size:9.0px;line-height:9.0px;letter-spacing:0.15px;color:#222;">120</div>
<div class="t" style="left:4.00px;top:37.66px;font-size:9.0px;line-height:9.0px;letter-spacing:0.15px;color:#222;">220</div>
</div>
<div class="clip" style="left:101px;top:41px;width:98.9px;height:533px;">
<div style="left:-101px;top:-41px;width:1024px;height:594px;">
<div style="left:103.90px;top:216.20px;width:19.40px;height:19.40px;border-radius:50%;background:#66d466;border:0.7px solid rgba(60,60,60,0.7);"></div>
<div class="t" style="left:13.60px;top:222.90px;width:200px;text-align:center;font-size:9.0px;line-height:9.0px;letter-spacing:0.1px;color:#111;">100</div>
<div style="left:116.90px;top:219.20px;width:14.00px;height:14.00px;border-radius:50%;background:#66d466;border:0.7px solid rgba(60,60,60,0.7);"></div>
<div class="t" style="left:23.90px;top:223.20px;width:200px;text-align:center;font-size:9.0px;line-height:9.0px;letter-spacing:0.1px;color:#111;">40</div>
<div style="left:95.00px;top:234.30px;width:18.80px;height:18.80px;border-radius:50%;background:#66d466;border:0.7px solid rgba(60,60,60,0.7);"></div>
<div class="t" style="left:4.40px;top:240.70px;width:200px;text-align:center;font-size:9.0px;line-height:9.0px;letter-spacing:0.1px;color:#111;">100</div>
<div style="left:121.30px;top:234.50px;width:18.80px;height:18.80px;border-radius:50%;background:#66d466;border:0.7px solid rgba(60,60,60,0.7);"></div>
<div class="t" style="left:30.70px;top:240.90px;width:200px;text-align:center;font-size:9.0px;line-height:9.0px;letter-spacing:0.1px;color:#111;">160</div>
<div style="left:131.30px;top:234.00px;width:19.40px;height:19.40px;border-radius:50%;background:#66d466;border:0.7px solid rgba(60,60,60,0.7);"></div>
<div class="t" style="left:41.00px;top:240.70px;width:200px;text-align:center;font-size:9.0px;line-height:9.0px;letter-spacing:0.1px;color:#111;">160</div>
<div style="left:140.80px;top:242.70px;width:19.40px;height:19.40px;border-radius:50%;background:#f08080;border:0.7px solid rgba(60,60,60,0.7);"></div>
<div class="t" style="left:50.50px;top:249.40px;width:200px;text-align:center;font-size:9.0px;line-height:9.0px;letter-spacing:0.1px;color:#111;">340</div>
<div style="left:150.90px;top:242.70px;width:19.40px;height:19.40px;border-radius:50%;background:#f08080;border:0.7px solid rgba(60,60,60,0.7);"></div>
<div class="t" style="left:60.60px;top:249.40px;width:200px;text-align:center;font-size:9.0px;line-height:9.0px;letter-spacing:0.1px;color:#111;">100</div>
<div style="left:161.00px;top:242.70px;width:19.40px;height:19.40px;border-radius:50%;background:#f08080;border:0.7px solid rgba(60,60,60,0.7);"></div>
<div class="t" style="left:70.70px;top:249.40px;width:200px;text-align:center;font-size:9.0px;line-height:9.0px;letter-spacing:0.1px;color:#111;">100</div>
<div style="left:170.80px;top:260.20px;width:19.40px;height:19.40px;border-radius:50%;background:#f08080;border:0.7px solid rgba(60,60,60,0.7);"></div>
<div class="t" style="left:80.50px;top:266.90px;width:200px;text-align:center;font-size:9.0px;line-height:9.0px;letter-spacing:0.1px;color:#111;">120</div>
<div style="left:180.60px;top:269.30px;width:19.40px;height:19.40px;border-radius:50%;background:#f08080;border:0.7px solid rgba(60,60,60,0.7);"></div>
<div class="t" style="left:90.30px;top:276.00px;width:200px;text-align:center;font-size:9.0px;line-height:9.0px;letter-spacing:0.1px;color:#111;">220</div>
</div></div>
<div style="left:103.60px;top:45.00px;width:17.20px;height:16.80px;background:#ececec;border-radius:2px;"></div>
<div style="left:103.60px;top:66.10px;width:17.20px;height:17.20px;background:#ececec;border-radius:2px;"></div>
<div class="t" style="left:12.20px;top:70.80px;width:200px;text-align:center;font-size:9.6px;line-height:9.6px;letter-spacing:0.1px;color:#3a3a3a;font-weight:bold;">L</div>
<div class="t" style="left:103.40px;top:88.60px;font-size:9.4px;line-height:9.4px;letter-spacing:0px;color:#2a2a2a;">x1</div>
<div style="left:180.00px;top:45.00px;width:17.00px;height:16.80px;background:#ececec;border-radius:2px;"></div>
<svg width="1024" height="594" style="left:0;top:0;" viewBox="0 0 1024 594"><path d="M108.4 49.1 V57.3 H112.2" fill="none" stroke="#444" stroke-width="1.05"/><path d="M109.7 55.4 L110.3 53.6 L111.9 52.4" fill="none" stroke="#666" stroke-width="0.8" stroke-dasharray="0.9 0.6"/><circle cx="113.5" cy="50.5" r="0.6" fill="#555"/><path d="M115.3 49.1 V52.6" stroke="#555" stroke-width="1.0"/><path d="M114.8 54.6 L116.5 56.3 L114.8 58.0 L113.1 56.3 Z" fill="#444"/><path d="M188.40,49.20 L190.05,50.54 L192.04,51.30 L191.70,53.40 L192.04,55.50 L190.05,56.26 L188.40,57.60 L186.75,56.26 L184.76,55.50 L185.10,53.40 L184.76,51.30 L186.75,50.54 Z" fill="none" stroke="#444" stroke-width="1.1" stroke-linejoin="round"/><circle cx="188.4" cy="53.4" r="1.3" fill="#555"/></svg>
<div style="left:103.60px;top:443.50px;width:14.10px;height:14.50px;background:#ececec;border-radius:2px;"></div>
<div class="t" style="left:10.65px;top:446.75px;width:200px;text-align:center;font-size:9.8px;line-height:9.8px;letter-spacing:0.1px;color:#444;">D</div>
<div style="left:103.60px;top:461.20px;width:21.40px;height:14.40px;background:#ececec;border-radius:2px;"></div>
<div class="t" style="left:14.30px;top:464.85px;width:200px;text-align:center;font-size:8.9px;line-height:8.9px;letter-spacing:0.1px;color:#444;">10x</div>
<div style="left:128.50px;top:461.20px;width:14.10px;height:14.40px;background:#ececec;border-radius:2px;"></div>
<div class="t" style="left:35.55px;top:464.40px;width:200px;text-align:center;font-size:9.8px;line-height:9.8px;letter-spacing:0.1px;color:#444;">L</div>
<div style="left:103.30px;top:480.00px;width:40.70px;height:14.20px;background:#ececec;border:1px solid #5a9ee6;border-radius:2.5px;"></div>
<div class="t" style="left:-59.40px;top:483.85px;width:200.15px;text-align:right;font-size:8.3px;line-height:8.3px;letter-spacing:0.15px;color:#777;">10</div>
<div style="left:103.30px;top:496.10px;width:40.70px;height:14.20px;background:#ececec;border-radius:2px;"></div>
<div class="t" style="left:-59.40px;top:499.95px;width:200.15px;text-align:right;font-size:8.3px;line-height:8.3px;letter-spacing:0.15px;color:#777;">20</div>
<div style="left:103.30px;top:512.20px;width:40.70px;height:14.20px;background:#ececec;border-radius:2px;"></div>
<div class="t" style="left:-59.40px;top:516.05px;width:200.15px;text-align:right;font-size:8.3px;line-height:8.3px;letter-spacing:0.15px;color:#777;">30</div>
<div style="left:103.30px;top:528.30px;width:40.70px;height:14.20px;background:#ececec;border-radius:2px;"></div>
<div class="t" style="left:-59.40px;top:532.15px;width:200.15px;text-align:right;font-size:8.3px;line-height:8.3px;letter-spacing:0.15px;color:#777;">40</div>
<div style="left:103.30px;top:544.40px;width:40.70px;height:14.20px;background:#ececec;border-radius:2px;"></div>
<div class="t" style="left:-59.40px;top:548.25px;width:200.15px;text-align:right;font-size:8.3px;line-height:8.3px;letter-spacing:0.15px;color:#777;">50</div>
<div class="t" style="left:17.40px;top:565.40px;width:200px;text-align:center;font-size:8px;line-height:8px;letter-spacing:0px;color:#555;">-</div>
<div class="t" style="left:50.80px;top:565.40px;width:200px;text-align:center;font-size:8px;line-height:8px;letter-spacing:0px;color:#555;">-</div>
<div class="t" style="left:83.80px;top:565.40px;width:200px;text-align:center;font-size:8px;line-height:8px;letter-spacing:0px;color:#555;">-</div>
<div style="left:1.30px;top:554.40px;width:70.10px;height:9.70px;background:#66d466;"></div>
<div style="left:71.10px;top:554.40px;width:29.10px;height:9.70px;background:#f08080;"></div>
<div class="clip" style="left:1.70px;top:540px;width:98.50px;height:34px;">
<div style="left:-1.70px;top:-540px;width:1024px;height:594px;">
<div class="clip" style="left:12.50px;top:545.20px;width:29.30px;height:10px;">
<div class="t" style="left:3.00px;top:0.80px;font-size:9.0px;line-height:9.0px;letter-spacing:0.15px;color:#111;font-weight:normal;">0</div>
</div>
<div class="clip" style="left:12.50px;top:554.80px;width:29.30px;height:10px;">
<div class="t" style="left:3.00px;top:0.80px;font-size:9.0px;line-height:9.0px;letter-spacing:0.15px;color:#111;font-weight:normal;">0</div>
</div>
<div class="clip" style="left:42.00px;top:545.20px;width:29.30px;height:10px;">
<div class="t" style="left:3.00px;top:0.80px;font-size:9.0px;line-height:9.0px;letter-spacing:0.15px;color:#111;font-weight:normal;">590</div>
</div>
<div class="clip" style="left:42.00px;top:554.80px;width:29.30px;height:10px;">
<div class="t" style="left:3.00px;top:0.80px;font-size:9.0px;line-height:9.0px;letter-spacing:0.15px;color:#111;font-weight:normal;">590</div>
</div>
<div class="clip" style="left:71.60px;top:545.20px;width:29.30px;height:10px;">
<div class="t" style="left:3.00px;top:0.80px;font-size:9.0px;line-height:9.0px;letter-spacing:0.15px;color:#111;font-weight:normal;">1 200</div>
</div>
<div class="clip" style="left:71.60px;top:554.80px;width:29.30px;height:10px;">
<div class="t" style="left:3.00px;top:0.80px;font-size:9.0px;line-height:9.0px;letter-spacing:0.15px;color:#111;font-weight:normal;">-560</div>
</div>
<div class="t" style="left:-13.70px;top:566.00px;font-size:9.0px;line-height:9.0px;letter-spacing:0.15px;color:#8a8a8a;">11:20</div>
<div class="t" style="left:15.70px;top:566.00px;font-size:9.0px;line-height:9.0px;letter-spacing:0.15px;color:#8a8a8a;">11:25</div>
<div class="t" style="left:45.00px;top:566.00px;font-size:9.0px;line-height:9.0px;letter-spacing:0.15px;color:#8a8a8a;">11:30</div>
<div class="t" style="left:74.40px;top:566.00px;font-size:9.0px;line-height:9.0px;letter-spacing:0.15px;color:#8a8a8a;">11:35</div>
</div></div>
<div style="left:0;top:0;width:1024px;height:594px;opacity:0.82;">
<div style="left:322.20px;top:105.20px;width:27.80px;height:126.40px;background:transparent;border:1px solid #a6e2a6;"></div>
<div style="left:323.70px;top:106.36px;width:24.80px;height:8.81px;background:rgba(116,192,252,0.25);"></div>
<div style="left:323.70px;top:115.17px;width:24.80px;height:8.81px;background:rgba(116,192,252,0.04);"></div>
<div style="left:323.70px;top:123.98px;width:24.80px;height:8.81px;background:rgba(116,192,252,0.35);"></div>
<div style="left:323.70px;top:132.79px;width:24.80px;height:8.81px;background:rgba(116,192,252,0.60);"></div>
<div style="left:323.70px;top:141.60px;width:24.80px;height:8.81px;background:rgba(116,192,252,0.10);"></div>
<div style="left:323.70px;top:150.40px;width:24.80px;height:8.81px;background:rgba(116,192,252,0.15);"></div>
<div style="left:323.70px;top:159.21px;width:24.80px;height:8.81px;background:rgba(116,192,252,0.12);"></div>
<div style="left:323.70px;top:168.02px;width:24.80px;height:8.81px;background:rgba(116,192,252,0.05);"></div>
<div style="left:323.70px;top:176.83px;width:24.80px;height:8.81px;background:rgba(116,192,252,0.50);"></div>
<div style="left:323.40px;top:185.94px;width:25.40px;height:9.41px;background:rgb(116,192,252);border:1px solid #5a5a5a;"></div>
<div style="left:323.70px;top:203.25px;width:24.80px;height:8.81px;background:rgba(116,192,252,0.15);"></div>
<div style="left:323.70px;top:212.06px;width:24.80px;height:8.81px;background:rgba(116,192,252,0.10);"></div>
<div style="left:323.70px;top:220.87px;width:24.80px;height:8.81px;background:rgba(116,192,252,0.12);"></div>
<div style="left:320.20px;top:150.80px;width:2.80px;height:79.20px;background:#66cc66;"></div>
<div class="clip" style="left:323.20px;top:105.20px;width:26.80px;height:126.40px;">
<div class="t" style="left:4.00px;top:2.40px;font-size:9.0px;line-height:9.0px;letter-spacing:0.15px;color:#222;">983 400</div>
<div class="t" style="left:4.00px;top:11.21px;font-size:9.0px;line-height:9.0px;letter-spacing:0.15px;color:#222;">39 800</div>
<div class="t" style="left:4.00px;top:20.02px;font-size:9.0px;line-height:9.0px;letter-spacing:0.15px;color:#222;">1 369</div>
<div class="t" style="left:4.00px;top:28.83px;font-size:9.0px;line-height:9.0px;letter-spacing:0.15px;color:#222;">3 026</div>
<div class="t" style="left:4.00px;top:37.64px;font-size:9.0px;line-height:9.0px;letter-spacing:0.15px;color:#222;">241 500</div>
<div class="t" style="left:4.00px;top:46.44px;font-size:9.0px;line-height:9.0px;letter-spacing:0.15px;color:#222;">850 800</div>
<div class="t" style="left:4.00px;top:55.25px;font-size:9.0px;line-height:9.0px;letter-spacing:0.15px;color:#222;">620 500</div>
<div class="t" style="left:4.00px;top:64.06px;font-size:9.0px;line-height:9.0px;letter-spacing:0.15px;color:#222;">181 400</div>
<div class="t" style="left:4.00px;top:72.87px;font-size:9.0px;line-height:9.0px;letter-spacing:0.15px;color:#222;">2 885</div>
<div class="t" style="left:4.00px;top:81.68px;font-size:9.0px;line-height:9.0px;letter-spacing:0.15px;color:#222;">4 119</div>
<div class="t" style="left:4.00px;top:99.29px;font-size:9.0px;line-height:9.0px;letter-spacing:0.15px;color:#222;">961 500</div>
<div class="t" style="left:4.00px;top:108.10px;font-size:9.0px;line-height:9.0px;letter-spacing:0.15px;color:#222;">242 200</div>
<div class="t" style="left:4.00px;top:116.91px;font-size:9.0px;line-height:9.0px;letter-spacing:0.15px;color:#222;">575 100</div>
</div>
<div style="left:352.10px;top:123.00px;width:27.40px;height:126.30px;background:transparent;border:1px solid #f6a8a8;"></div>
<div style="left:353.60px;top:123.98px;width:24.40px;height:8.81px;background:rgba(116,192,252,0.05);"></div>
<div style="left:353.60px;top:132.79px;width:24.40px;height:8.81px;background:rgba(116,192,252,0.35);"></div>
<div style="left:353.60px;top:141.60px;width:24.40px;height:8.81px;background:rgba(116,192,252,0.35);"></div>
<div style="left:353.60px;top:150.40px;width:24.40px;height:8.81px;background:rgba(116,192,252,0.10);"></div>
<div style="left:353.30px;top:159.51px;width:25.00px;height:9.41px;background:rgb(116,192,252);border:1px solid #5a5a5a;"></div>
<div style="left:353.60px;top:168.02px;width:24.40px;height:8.81px;background:rgba(116,192,252,0.50);"></div>
<div style="left:353.60px;top:176.83px;width:24.40px;height:8.81px;background:rgba(116,192,252,0.45);"></div>
<div style="left:353.60px;top:185.64px;width:24.40px;height:8.81px;background:rgba(116,192,252,0.30);"></div>
<div style="left:353.60px;top:194.44px;width:24.40px;height:8.81px;background:rgba(116,192,252,0.02);"></div>
<div style="left:353.60px;top:203.25px;width:24.40px;height:8.81px;background:rgba(116,192,252,0.30);"></div>
<div style="left:353.60px;top:212.06px;width:24.40px;height:8.81px;background:rgba(116,192,252,0.15);"></div>
<div style="left:353.60px;top:220.87px;width:24.40px;height:8.81px;background:rgba(116,192,252,0.08);"></div>
<div style="left:353.60px;top:229.68px;width:24.40px;height:8.81px;background:rgba(116,192,252,0.20);"></div>
<div style="left:353.60px;top:238.48px;width:24.40px;height:8.81px;background:rgba(116,192,252,0.45);"></div>
<div style="left:350.10px;top:160.00px;width:2.80px;height:78.40px;background:#f07070;"></div>
<div class="clip" style="left:353.10px;top:123.00px;width:26.40px;height:126.30px;">
<div class="t" style="left:4.00px;top:2.22px;font-size:9.0px;line-height:9.0px;letter-spacing:0.15px;color:#222;">248 700</div>
<div class="t" style="left:4.00px;top:11.03px;font-size:9.0px;line-height:9.0px;letter-spacing:0.15px;color:#222;">1 091</div>
<div class="t" style="left:4.00px;top:19.84px;font-size:9.0px;line-height:9.0px;letter-spacing:0.15px;color:#222;">1 339</div>
<div class="t" style="left:4.00px;top:28.64px;font-size:9.0px;line-height:9.0px;letter-spacing:0.15px;color:#222;">515 700</div>
<div class="t" style="left:4.00px;top:37.45px;font-size:9.0px;line-height:9.0px;letter-spacing:0.15px;color:#222;">3 340</div>
<div class="t" style="left:4.00px;top:46.26px;font-size:9.0px;line-height:9.0px;letter-spacing:0.15px;color:#222;">2 341</div>
<div class="t" style="left:4.00px;top:55.07px;font-size:9.0px;line-height:9.0px;letter-spacing:0.15px;color:#222;">2 106</div>
<div class="t" style="left:4.00px;top:63.88px;font-size:9.0px;line-height:9.0px;letter-spacing:0.15px;color:#222;">1 217</div>
<div class="t" style="left:4.00px;top:72.68px;font-size:9.0px;line-height:9.0px;letter-spacing:0.15px;color:#222;">13 800</div>
<div class="t" style="left:4.00px;top:81.49px;font-size:9.0px;line-height:9.0px;letter-spacing:0.15px;color:#222;">1 043</div>
<div class="t" style="left:4.00px;top:90.30px;font-size:9.0px;line-height:9.0px;letter-spacing:0.15px;color:#222;">668 400</div>
<div class="t" style="left:4.00px;top:99.11px;font-size:9.0px;line-height:9.0px;letter-spacing:0.15px;color:#222;">299 700</div>
<div class="t" style="left:4.00px;top:107.92px;font-size:9.0px;line-height:9.0px;letter-spacing:0.15px;color:#222;">825 700</div>
<div class="t" style="left:4.00px;top:116.72px;font-size:9.0px;line-height:9.0px;letter-spacing:0.15px;color:#222;">2 077</div>
</div>
<div style="left:380.80px;top:211.10px;width:28.30px;height:12.50px;background:transparent;border:1px solid #a6e2a6;"></div>
<div style="left:382.00px;top:212.36px;width:25.90px;height:9.41px;background:rgb(116,192,252);border:1px solid #5a5a5a;"></div>
<div style="left:378.80px;top:213.10px;width:2.80px;height:8.80px;background:#66cc66;"></div>
<div class="clip" style="left:381.80px;top:211.10px;width:27.30px;height:12.50px;">
<div class="t" style="left:4.00px;top:2.20px;font-size:9.0px;line-height:9.0px;letter-spacing:0.15px;color:#222;">957 400</div>
</div>
<div style="left:486.40px;top:201.30px;width:32.00px;height:32.00px;border-radius:50%;background:#f08080;border:0.7px solid rgba(60,60,60,0.7);"></div>
<div class="t" style="left:402.40px;top:214.30px;width:200px;text-align:center;font-size:9.0px;line-height:9.0px;letter-spacing:0.1px;color:#111;">17 400</div>
<div style="left:412.00px;top:443.90px;width:14.30px;height:13.90px;background:#ececec;border-radius:2px;"></div>
<div class="t" style="left:319.15px;top:446.85px;width:200px;text-align:center;font-size:9.8px;line-height:9.8px;letter-spacing:0.1px;color:#444;">F</div>
<div style="left:412.00px;top:461.00px;width:21.60px;height:14.50px;background:#ececec;border-radius:2px;"></div>
<div class="t" style="left:322.80px;top:464.70px;width:200px;text-align:center;font-size:8.9px;line-height:8.9px;letter-spacing:0.1px;color:#444;">10x</div>
<div style="left:436.90px;top:461.00px;width:14.40px;height:14.50px;background:#ececec;border-radius:2px;"></div>
<div class="t" style="left:344.10px;top:464.25px;width:200px;text-align:center;font-size:9.8px;line-height:9.8px;letter-spacing:0.1px;color:#444;">L</div>
<div style="left:412.00px;top:480.50px;width:40.00px;height:14.10px;background:#ececec;border:1px solid #5a9ee6;border-radius:2.5px;"></div>
<div class="t" style="left:248.60px;top:484.30px;width:200.15px;text-align:right;font-size:8.3px;line-height:8.3px;letter-spacing:0.15px;color:#777;">100</div>
<div style="left:412.00px;top:496.60px;width:40.00px;height:14.10px;background:#ececec;border-radius:2px;"></div>
<div class="t" style="left:248.60px;top:500.40px;width:200.15px;text-align:right;font-size:8.3px;line-height:8.3px;letter-spacing:0.15px;color:#777;">200</div>
<div style="left:412.00px;top:512.70px;width:40.00px;height:14.10px;background:#ececec;border-radius:2px;"></div>
<div class="t" style="left:248.60px;top:516.50px;width:200.15px;text-align:right;font-size:8.3px;line-height:8.3px;letter-spacing:0.15px;color:#777;">300</div>
<div style="left:412.00px;top:528.80px;width:40.00px;height:14.10px;background:#ececec;border-radius:2px;"></div>
<div class="t" style="left:248.60px;top:532.60px;width:200.15px;text-align:right;font-size:8.3px;line-height:8.3px;letter-spacing:0.15px;color:#777;">400</div>
<div style="left:412.00px;top:544.90px;width:40.00px;height:14.10px;background:#ececec;border-radius:2px;"></div>
<div class="t" style="left:248.60px;top:548.70px;width:200.15px;text-align:right;font-size:8.3px;line-height:8.3px;letter-spacing:0.15px;color:#777;">500</div>
<div class="t" style="left:326.80px;top:565.40px;width:200px;text-align:center;font-size:8px;line-height:8px;letter-spacing:0px;color:#555;">-</div>
<div class="t" style="left:363.40px;top:565.40px;width:200px;text-align:center;font-size:8px;line-height:8px;letter-spacing:0px;color:#555;">-</div>
<div class="t" style="left:400.00px;top:565.40px;width:200px;text-align:center;font-size:8px;line-height:8px;letter-spacing:0px;color:#555;">-</div>
<div style="left:299.40px;top:554.40px;width:50.80px;height:9.70px;background:#66d466;"></div>
<div style="left:349.90px;top:554.40px;width:29.90px;height:9.70px;background:#f08080;"></div>
<div style="left:379.50px;top:554.40px;width:29.70px;height:9.70px;background:#66d466;"></div>
<div class="clip" style="left:299.40px;top:540px;width:109.80px;height:34px;">
<div style="left:-299.40px;top:-540px;width:1024px;height:594px;">
<div class="clip" style="left:321.10px;top:545.20px;width:29.30px;height:10px;">
<div class="t" style="left:3.00px;top:0.80px;font-size:9.0px;line-height:9.0px;letter-spacing:0.15px;color:#111;font-weight:normal;">15 996</div>
</div>
<div class="clip" style="left:321.10px;top:554.80px;width:29.30px;height:10px;">
<div class="t" style="left:3.00px;top:0.80px;font-size:9.0px;line-height:9.0px;letter-spacing:0.15px;color:#111;font-weight:normal;">7 067</div>
</div>
<div class="clip" style="left:350.40px;top:545.20px;width:29.30px;height:10px;">
<div class="t" style="left:3.00px;top:0.80px;font-size:9.0px;line-height:9.0px;letter-spacing:0.15px;color:#111;font-weight:normal;">17 129</div>
</div>
<div class="clip" style="left:350.40px;top:554.80px;width:29.30px;height:10px;">
<div class="t" style="left:3.00px;top:0.80px;font-size:9.0px;line-height:9.0px;letter-spacing:0.15px;color:#111;font-weight:normal;">-1 030</div>
</div>
<div class="clip" style="left:379.80px;top:545.20px;width:29.30px;height:10px;">
<div class="t" style="left:3.00px;top:0.80px;font-size:9.0px;line-height:9.0px;letter-spacing:0.15px;color:#111;font-weight:normal;">957 400</div>
</div>
<div class="clip" style="left:379.80px;top:554.80px;width:29.30px;height:10px;">
<div class="t" style="left:3.00px;top:0.80px;font-size:9.0px;line-height:9.0px;letter-spacing:0.15px;color:#111;font-weight:normal;">922 600</div>
</div>
<div class="t" style="left:295.60px;top:566.00px;font-size:9.0px;line-height:9.0px;letter-spacing:0.15px;color:#8a8a8a;">11:25</div>
<div class="t" style="left:324.10px;top:566.00px;font-size:9.0px;line-height:9.0px;letter-spacing:0.15px;color:#8a8a8a;">11:30</div>
<div class="t" style="left:353.40px;top:566.00px;font-size:9.0px;line-height:9.0px;letter-spacing:0.15px;color:#8a8a8a;">11:35</div>
<div class="t" style="left:382.80px;top:566.00px;font-size:9.0px;line-height:9.0px;letter-spacing:0.15px;color:#8a8a8a;">11:40</div>
</div></div>
</div>
<div style="left:0;top:0;width:1024px;height:594px;opacity:0.82;">
<div style="left:741.30px;top:202.40px;width:26.90px;height:47.00px;background:transparent;border:1px solid #a6e2a6;"></div>
<div style="left:742.50px;top:203.55px;width:24.50px;height:9.41px;background:rgb(116,192,252);border:1px solid #5a5a5a;"></div>
<div style="left:742.80px;top:238.48px;width:23.90px;height:8.81px;background:rgba(116,192,252,0.30);"></div>
<div style="left:739.30px;top:204.00px;width:2.80px;height:8.40px;background:#66cc66;"></div>
<div class="clip" style="left:742.30px;top:202.40px;width:25.90px;height:47.00px;">
<div class="t" style="left:4.00px;top:2.09px;font-size:9.0px;line-height:9.0px;letter-spacing:0.15px;color:#222;">15 972</div>
<div class="t" style="left:4.00px;top:37.32px;font-size:9.0px;line-height:9.0px;letter-spacing:0.15px;color:#222;">6 502</div>
</div>
<svg width="1024" height="594" style="left:0;top:0;" viewBox="0 0 1024 594"><line x1="841.2" y1="208.6" x2="854.8" y2="243.6" stroke="#555" stroke-width="0.9"/><line x1="878.9" y1="208.2" x2="869.1" y2="243.6" stroke="#555" stroke-width="0.9"/></svg>
<div style="left:827.10px;top:194.50px;width:28.20px;height:28.20px;border-radius:50%;background:#66d466;border:0.7px solid rgba(60,60,60,0.7);"></div>
<div class="t" style="left:741.20px;top:205.60px;width:200px;text-align:center;font-size:9.0px;line-height:9.0px;letter-spacing:0.1px;color:#111;">4 896</div>
<div style="left:862.30px;top:191.60px;width:33.20px;height:33.20px;border-radius:50%;background:#66d466;border:0.7px solid rgba(60,60,60,0.7);"></div>
<div class="t" style="left:778.90px;top:205.20px;width:200px;text-align:center;font-size:9.0px;line-height:9.0px;letter-spacing:0.1px;color:#111;">11 074</div>
<div style="left:841.20px;top:230.00px;width:27.20px;height:27.20px;border-radius:50%;background:#f08080;border:0.7px solid rgba(60,60,60,0.7);"></div>
<div class="t" style="left:754.80px;top:240.60px;width:200px;text-align:center;font-size:9.0px;line-height:9.0px;letter-spacing:0.1px;color:#111;">5 784</div>
<div style="left:859.10px;top:233.60px;width:20.00px;height:20.00px;border-radius:50%;background:#f08080;border:0.7px solid rgba(60,60,60,0.7);"></div>
<div class="t" style="left:769.10px;top:240.60px;width:200px;text-align:center;font-size:9.0px;line-height:9.0px;letter-spacing:0.1px;color:#111;">722</div>
<div style="left:771.60px;top:443.30px;width:14.30px;height:14.80px;background:#ececec;border-radius:2px;"></div>
<div class="t" style="left:678.75px;top:446.70px;width:200px;text-align:center;font-size:9.8px;line-height:9.8px;letter-spacing:0.1px;color:#444;">F</div>
<div style="left:771.60px;top:461.20px;width:14.30px;height:14.30px;background:#ececec;border-radius:2px;"></div>
<div class="t" style="left:678.75px;top:464.35px;width:200px;text-align:center;font-size:9.8px;line-height:9.8px;letter-spacing:0.1px;color:#444;">L</div>
<div style="left:771.60px;top:480.40px;width:27.60px;height:14.10px;background:#ececec;border:1px solid #5a9ee6;border-radius:2.5px;"></div>
<div class="t" style="left:595.80px;top:484.20px;width:200.15px;text-align:right;font-size:8.3px;line-height:8.3px;letter-spacing:0.15px;color:#777;">1 100</div>
<div style="left:771.60px;top:496.50px;width:27.60px;height:14.10px;background:#ececec;border-radius:2px;"></div>
<div class="t" style="left:595.80px;top:500.30px;width:200.15px;text-align:right;font-size:8.3px;line-height:8.3px;letter-spacing:0.15px;color:#777;">2</div>
<div style="left:771.60px;top:512.60px;width:27.60px;height:14.10px;background:#ececec;border-radius:2px;"></div>
<div class="t" style="left:595.80px;top:516.40px;width:200.15px;text-align:right;font-size:8.3px;line-height:8.3px;letter-spacing:0.15px;color:#777;">3</div>
<div style="left:771.60px;top:528.70px;width:27.60px;height:14.10px;background:#ececec;border-radius:2px;"></div>
<div class="t" style="left:595.80px;top:532.50px;width:200.15px;text-align:right;font-size:8.3px;line-height:8.3px;letter-spacing:0.15px;color:#777;">4</div>
<div style="left:771.60px;top:544.80px;width:27.60px;height:14.10px;background:#ececec;border-radius:2px;"></div>
<div class="t" style="left:595.80px;top:548.60px;width:200.15px;text-align:right;font-size:8.3px;line-height:8.3px;letter-spacing:0.15px;color:#777;">5</div>
<div class="t" style="left:689.00px;top:565.40px;width:200px;text-align:center;font-size:8px;line-height:8px;letter-spacing:0px;color:#555;">-</div>
<div class="t" style="left:731.70px;top:565.40px;width:200px;text-align:center;font-size:8px;line-height:8px;letter-spacing:0px;color:#555;">-</div>
<div class="t" style="left:774.00px;top:565.40px;width:200px;text-align:center;font-size:8px;line-height:8px;letter-spacing:0px;color:#555;">-</div>
<div style="left:641.30px;top:554.40px;width:127.20px;height:9.70px;background:#66d466;"></div>
<div class="clip" style="left:641.30px;top:540px;width:127.20px;height:34px;">
<div style="left:-641.30px;top:-540px;width:1024px;height:594px;">
<div class="clip" style="left:650.90px;top:545.20px;width:29.30px;height:10px;">
<div class="t" style="left:3.00px;top:0.80px;font-size:9.0px;line-height:9.0px;letter-spacing:0.15px;color:#111;font-weight:normal;">0</div>
</div>
<div class="clip" style="left:650.90px;top:554.80px;width:29.30px;height:10px;">
<div class="t" style="left:3.00px;top:0.80px;font-size:9.0px;line-height:9.0px;letter-spacing:0.15px;color:#111;font-weight:normal;">0</div>
</div>
<div class="clip" style="left:680.30px;top:545.20px;width:29.30px;height:10px;">
<div class="t" style="left:3.00px;top:0.80px;font-size:9.0px;line-height:9.0px;letter-spacing:0.15px;color:#111;font-weight:normal;">0</div>
</div>
<div class="clip" style="left:680.30px;top:554.80px;width:29.30px;height:10px;">
<div class="t" style="left:3.00px;top:0.80px;font-size:9.0px;line-height:9.0px;letter-spacing:0.15px;color:#111;font-weight:normal;">0</div>
</div>
<div class="clip" style="left:709.60px;top:545.20px;width:29.30px;height:10px;">
<div class="t" style="left:3.00px;top:0.80px;font-size:9.0px;line-height:9.0px;letter-spacing:0.15px;color:#111;font-weight:normal;">0</div>
</div>
<div class="clip" style="left:709.60px;top:554.80px;width:29.30px;height:10px;">
<div class="t" style="left:3.00px;top:0.80px;font-size:9.0px;line-height:9.0px;letter-spacing:0.15px;color:#111;font-weight:normal;">0</div>
</div>
<div class="clip" style="left:739.20px;top:545.20px;width:29.30px;height:10px;">
<div class="t" style="left:3.00px;top:0.80px;font-size:9.0px;line-height:9.0px;letter-spacing:0.15px;color:#111;font-weight:normal;">22 472</div>
</div>
<div class="clip" style="left:739.20px;top:554.80px;width:29.30px;height:10px;">
<div class="t" style="left:3.00px;top:0.80px;font-size:9.0px;line-height:9.0px;letter-spacing:0.15px;color:#111;font-weight:normal;">9 468</div>
</div>
<div class="t" style="left:624.60px;top:566.00px;font-size:9.0px;line-height:9.0px;letter-spacing:0.15px;color:#8a8a8a;">11:20</div>
<div class="t" style="left:653.90px;top:566.00px;font-size:9.0px;line-height:9.0px;letter-spacing:0.15px;color:#8a8a8a;">11:25</div>
<div class="t" style="left:683.30px;top:566.00px;font-size:9.0px;line-height:9.0px;letter-spacing:0.15px;color:#8a8a8a;">11:30</div>
<div class="t" style="left:712.60px;top:566.00px;font-size:9.0px;line-height:9.0px;letter-spacing:0.15px;color:#8a8a8a;">11:35</div>
<div class="t" style="left:742.20px;top:566.00px;font-size:9.0px;line-height:9.0px;letter-spacing:0.15px;color:#8a8a8a;">11:40</div>
</div></div>
</div>
<svg width="1024" height="594" style="left:0;top:0;" viewBox="0 0 1024 594"><path d="M12.3 3.3 A5.3 5.3 0 0 0 12.3 13.9 Z" fill="#6262ff"/><path d="M15.6 3.3 H20.8 Q22.4 3.3 22.4 4.95 Q22.4 6.6 20.8 6.6 H17.6 Q16.9 6.6 16.5 7.3 Q16.0 8.3 15.2 8.3 Q14.0 8.3 14.0 7.1 V4.9 Q14.0 3.3 15.6 3.3 Z" fill="#6262ff"/><path d="M14.0 10.8 H17.8 Q18.5 10.8 18.9 10.0 Q19.4 9.1 20.2 9.1 Q22.4 9.1 22.4 11.0 V12.2 Q22.4 13.9 20.7 13.9 H14.0 Z" fill="#6262ff"/><path d="M443.8 5.2 L449.2 5.2 M444.6 5.2 L445.2 9.0 L443.4 10.6 L449.6 10.6 L447.8 9.0 L448.4 5.2 M446.5 10.6 V13.4 M443.2 5.0 L450.2 13.0" fill="none" stroke="#555" stroke-width="0.9"/><path d="M0 0 H4.5 A4.5 4.5 0 0 0 0 4.5 Z" fill="#3c3446"/><path d="M1024 0 H1019.5 A4.5 4.5 0 0 1 1024 4.5 Z" fill="#1c1c50"/><path d="M976 8.7 H983.2" stroke="#444" stroke-width="1.0"/><rect x="992.6" y="5.0" width="7.8" height="7.4" rx="1.2" fill="none" stroke="#444" stroke-width="1.0"/><path d="M1011.2 5.5 L1017.6 11.9 M1017.6 5.5 L1011.2 11.9" stroke="#444" stroke-width="1.0"/><path d="M1006.8 580.4 V589.6" stroke="#666" stroke-width="1.6"/><rect x="1009.3" y="580.2" width="2.7" height="7.4" fill="#9a9a9a"/><rect x="1013.1" y="580.2" width="3.0" height="6.0" fill="#9a9a9a"/><path d="M1009.3 582.4 H1012 M1009.3 584.5 H1012 M1013.1 582.4 H1016.1 M1013.1 584.5 H1016.1" stroke="#c8c8c8" stroke-width="0.5"/><path d="M1012.6 587.2 L1016.2 587.2 L1014.4 589.8 Z" fill="#444"/></svg>
<svg width="1024" height="594" style="left:0;top:0;" viewBox="0 0 1024 594"><line x1="328.5" y1="314.0" x2="39.2" y2="41.1" stroke="#ff0000" stroke-width="2.4" stroke-linecap="round" stroke-dasharray="9.0 5.7"/><line x1="39.2" y1="41.1" x2="39.40" y2="48.10" stroke="#ff0000" stroke-width="2.4" stroke-linecap="round"/><line x1="39.2" y1="41.1" x2="46.20" y2="40.90" stroke="#ff0000" stroke-width="2.4" stroke-linecap="round"/><line x1="328.5" y1="314.0" x2="328.3" y2="41.6" stroke="#ff0000" stroke-width="2.4" stroke-linecap="round" stroke-dasharray="9.0 5.7"/><line x1="328.3" y1="41.6" x2="323.35" y2="46.55" stroke="#ff0000" stroke-width="2.4" stroke-linecap="round"/><line x1="328.3" y1="41.6" x2="333.25" y2="46.55" stroke="#ff0000" stroke-width="2.4" stroke-linecap="round"/><line x1="328.5" y1="314.0" x2="662.0" y2="40.4" stroke="#ff0000" stroke-width="2.4" stroke-linecap="round" stroke-dasharray="9.0 5.7"/><line x1="662.0" y1="40.4" x2="655.03" y2="39.71" stroke="#ff0000" stroke-width="2.4" stroke-linecap="round"/><line x1="662.0" y1="40.4" x2="661.31" y2="47.37" stroke="#ff0000" stroke-width="2.4" stroke-linecap="round"/></svg>
<div style="left:1022.70px;top:0.00px;width:1.30px;height:594.00px;background:#2a2a35;"></div>
<svg width="1024" height="594" style="left:0;top:0;" viewBox="0 0 1024 594"><path d="M1024 594 H1018 A6 6 0 0 0 1024 588 Z" fill="#2a3a55"/></svg>
</div></body></html>
